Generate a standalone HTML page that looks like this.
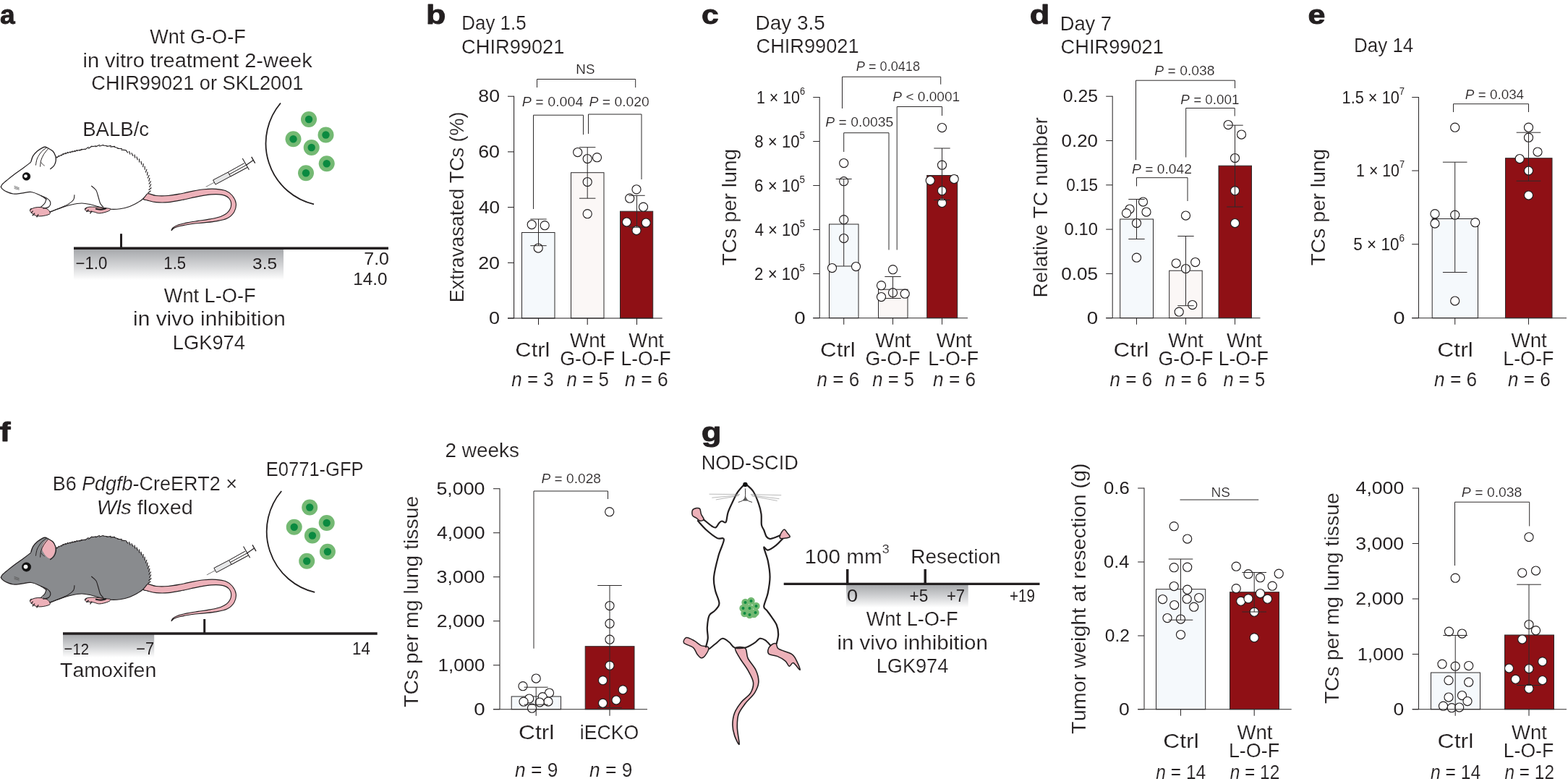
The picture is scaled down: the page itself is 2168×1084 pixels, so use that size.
<!DOCTYPE html>
<html lang="en"><head><meta charset="utf-8"><title>Figure</title>
<style>
html,body{margin:0;padding:0;background:#fff;}
body{width:2168px;height:1084px;overflow:hidden;}
svg{display:block;font-family:"Liberation Sans",sans-serif;font-kerning:none;}
text{white-space:pre;}
</style></head><body>
<svg width="2168" height="1084" viewBox="0 0 2168 1084">
<defs>
<linearGradient id="gg" x1="0" y1="0" x2="0" y2="1"><stop offset="0" stop-color="#a5a7aa"/><stop offset="0.55" stop-color="#d4d5d7"/><stop offset="1" stop-color="#ffffff"/></linearGradient>
</defs>
<rect width="2168" height="1084" fill="#fff"/>
<text transform="translate(-0.07 33.00) scale(0.9893 1)" font-size="37.60" font-weight="bold" fill="#231f20" stroke="#231f20" stroke-width="0.9" stroke-linejoin="round">a</text>
<text transform="translate(207.27 60.00) scale(0.9677 1)" font-size="28.00" fill="#231f20" stroke="#fff" stroke-width="0.18">Wnt G-O-F</text>
<text transform="translate(114.45 92.50) scale(1.0351 1)" font-size="28.00" fill="#231f20" stroke="#fff" stroke-width="0.18">in vitro treatment 2-week</text>
<text transform="translate(126.35 124.20) scale(0.9711 1)" font-size="28.00" fill="#231f20" stroke="#fff" stroke-width="0.18">CHIR99021 or SKL2001</text>
<text transform="translate(114.13 188.00) scale(0.9857 1)" font-size="28.00" fill="#231f20" stroke="#fff" stroke-width="0.18">BALB/c</text>
<path d="M203.41,267.68C206.46,266.98 211.02,270.03 215.87,270.50C220.71,270.97 226.94,270.91 232.47,270.50C238.01,270.08 243.54,269.03 249.08,268.01C254.61,266.98 260.15,265.41 265.68,264.35C271.22,263.30 276.75,262.20 282.29,261.70C287.82,261.20 293.91,261.01 298.89,261.37C303.88,261.73 308.44,262.33 312.18,263.86C315.91,265.38 318.96,267.59 321.31,270.50C323.66,273.40 325.88,277.56 326.29,281.29C326.71,285.03 325.88,289.46 323.80,292.92C321.73,296.37 317.99,299.89 313.84,302.05C309.69,304.21 304.15,304.90 298.89,305.87C293.64,306.84 287.82,307.25 282.29,307.86C276.75,308.47 271.22,308.75 265.68,309.52C260.15,310.30 253.23,311.54 249.08,312.51C244.93,313.48 242.77,314.31 240.78,315.33C238.78,316.36 237.40,318.74 237.12,318.65C236.85,318.57 237.68,316.08 239.12,314.83C240.55,313.59 242.44,312.34 245.76,311.18C249.08,310.02 254.34,308.83 259.04,307.86C263.75,306.89 268.73,306.20 273.99,305.37C279.24,304.54 285.33,303.90 290.59,302.88C295.85,301.85 301.38,300.89 305.54,299.23C309.69,297.57 313.15,295.63 315.50,292.92C317.85,290.20 319.51,286.14 319.65,282.95C319.79,279.77 318.41,276.09 316.33,273.82C314.25,271.55 311.21,270.17 307.20,269.34C303.18,268.51 297.79,268.45 292.25,268.84C286.72,269.23 280.63,270.42 273.99,271.66C267.34,272.91 259.32,274.98 252.40,276.31C245.48,277.64 238.56,279.08 232.47,279.63C226.38,280.18 220.57,280.05 215.87,279.63C211.16,279.22 207.29,277.97 204.24,277.14C201.20,276.31 197.74,276.23 197.60,274.65C197.46,273.07 200.37,268.37 203.41,267.68Z" fill="#edb1b9" stroke="#231f20" stroke-width="1.10" stroke-linejoin="round" stroke-linecap="round"/>
<path d="M1.33,258.38C1.33,257.27 1.88,256.30 3.32,254.72C4.76,253.15 6.92,251.40 9.96,248.91C13.01,246.42 17.71,242.68 21.59,239.78C25.46,236.87 29.75,234.02 33.21,231.48C36.67,228.93 39.58,226.44 42.34,224.50C45.11,222.56 46.36,220.77 49.82,219.85C53.28,218.94 58.53,219.30 63.10,219.02C67.67,218.75 72.79,219.30 77.21,218.19C81.64,217.09 85.38,213.90 89.67,212.38C93.96,210.86 98.52,210.08 102.95,209.06C107.38,208.04 111.81,207.34 116.24,206.24C120.66,205.13 125.09,203.25 129.52,202.42C133.95,201.59 138.10,201.12 142.80,201.25C147.51,201.39 152.77,202.08 157.75,203.25C162.73,204.41 167.99,206.15 172.69,208.23C177.40,210.30 181.83,212.38 185.98,215.70C190.13,219.02 194.56,223.87 197.60,228.16C200.65,232.44 202.58,237.01 204.24,241.44C205.90,245.87 207.15,250.85 207.57,254.72C207.98,258.60 207.43,262.47 206.74,264.69C206.04,266.90 204.94,266.29 203.41,268.01C201.89,269.72 199.68,273.04 197.60,274.98C195.53,276.92 194.00,277.89 190.96,279.63C187.92,281.37 183.49,283.92 179.34,285.44C175.19,286.97 170.48,288.13 166.05,288.76C161.62,289.40 156.09,289.40 152.77,289.26C149.45,289.12 148.62,288.43 146.13,287.93C143.64,287.44 141.14,287.10 137.82,286.27C134.50,285.44 130.35,283.84 126.20,282.95C122.05,282.07 117.62,280.90 112.92,280.96C108.21,281.02 102.95,282.12 97.97,283.28C92.99,284.45 87.87,286.33 83.03,287.93C78.18,289.54 71.68,292.64 68.91,292.92C66.14,293.19 68.22,290.42 66.42,289.59C64.62,288.76 58.53,290.29 58.12,287.93C57.70,285.58 64.21,278.39 63.93,275.48C63.65,272.57 59.92,272.16 56.46,270.50C53.00,268.84 47.60,266.07 43.17,265.52C38.75,264.96 34.04,266.76 29.89,267.18C25.74,267.59 21.86,268.42 18.27,268.01C14.67,267.59 10.79,265.79 8.30,264.69C5.81,263.58 4.48,262.42 3.32,261.37C2.16,260.31 1.33,259.48 1.33,258.38Z" fill="#fff" stroke="none" stroke-width="0.00" stroke-linejoin="round" stroke-linecap="round"/>
<path d="M1.33,258.38C1.66,257.77 1.88,256.30 3.32,254.72C4.76,253.15 6.92,251.40 9.96,248.91C13.01,246.42 17.71,242.68 21.59,239.78C25.46,236.87 29.75,234.02 33.21,231.48C36.67,228.93 40.82,225.66 42.34,224.50" fill="none" stroke="#231f20" stroke-width="1.20" stroke-linejoin="round" stroke-linecap="round"/>
<path d="M203.41,268.01C202.45,269.17 199.68,273.04 197.60,274.98C195.53,276.92 194.00,277.89 190.96,279.63C187.92,281.37 183.49,283.92 179.34,285.44C175.19,286.97 170.48,288.13 166.05,288.76C161.62,289.40 156.09,289.40 152.77,289.26C149.45,289.12 148.62,288.43 146.13,287.93C143.64,287.44 141.14,287.10 137.82,286.27C134.50,285.44 130.35,283.84 126.20,282.95C122.05,282.07 117.62,280.90 112.92,280.96C108.21,281.02 102.95,282.12 97.97,283.28C92.99,284.45 87.87,286.33 83.03,287.93C78.18,289.54 71.26,292.09 68.91,292.92" fill="none" stroke="#231f20" stroke-width="1.10" stroke-linejoin="round" stroke-linecap="round"/>
<path d="M63.93,275.48C62.68,274.65 59.92,272.16 56.46,270.50C53.00,268.84 47.60,266.07 43.17,265.52C38.75,264.96 34.04,266.76 29.89,267.18C25.74,267.59 21.86,268.42 18.27,268.01C14.67,267.59 10.79,265.79 8.30,264.69C5.81,263.58 4.48,262.42 3.32,261.37C2.16,260.31 1.66,258.87 1.33,258.38" fill="none" stroke="#231f20" stroke-width="1.20" stroke-linejoin="round" stroke-linecap="round"/>
<line x1="75.38" y1="219.57" x2="79.05" y2="216.81" stroke="#231f20" stroke-width="1.15"/>
<line x1="78.65" y1="218.44" x2="81.69" y2="214.99" stroke="#231f20" stroke-width="1.15"/>
<line x1="81.30" y1="216.65" x2="84.94" y2="213.84" stroke="#231f20" stroke-width="1.15"/>
<line x1="84.51" y1="215.50" x2="87.70" y2="212.18" stroke="#231f20" stroke-width="1.15"/>
<line x1="87.19" y1="213.78" x2="91.11" y2="211.36" stroke="#231f20" stroke-width="1.15"/>
<line x1="90.46" y1="212.94" x2="94.11" y2="210.14" stroke="#231f20" stroke-width="1.15"/>
<line x1="93.39" y1="211.68" x2="97.57" y2="209.74" stroke="#231f20" stroke-width="1.15"/>
<line x1="96.79" y1="211.28" x2="100.61" y2="208.71" stroke="#231f20" stroke-width="1.15"/>
<line x1="99.82" y1="210.23" x2="104.03" y2="208.35" stroke="#231f20" stroke-width="1.15"/>
<line x1="103.23" y1="209.85" x2="107.06" y2="207.30" stroke="#231f20" stroke-width="1.15"/>
<line x1="106.26" y1="208.81" x2="110.50" y2="207.03" stroke="#231f20" stroke-width="1.15"/>
<line x1="109.70" y1="208.54" x2="113.53" y2="206.00" stroke="#231f20" stroke-width="1.15"/>
<line x1="111.64" y1="207.14" x2="118.04" y2="206.01" stroke="#231f20" stroke-width="1.15"/>
<line x1="117.22" y1="207.10" x2="122.49" y2="203.29" stroke="#231f20" stroke-width="1.15"/>
<line x1="122.16" y1="205.50" x2="127.46" y2="201.73" stroke="#231f20" stroke-width="1.15"/>
<line x1="126.63" y1="202.78" x2="133.07" y2="201.93" stroke="#231f20" stroke-width="1.15"/>
<line x1="132.04" y1="202.94" x2="137.95" y2="200.23" stroke="#231f20" stroke-width="1.15"/>
<line x1="137.11" y1="202.31" x2="143.25" y2="200.17" stroke="#231f20" stroke-width="1.15"/>
<line x1="142.15" y1="201.00" x2="148.60" y2="201.76" stroke="#231f20" stroke-width="1.15"/>
<line x1="147.35" y1="202.51" x2="153.74" y2="201.33" stroke="#231f20" stroke-width="1.15"/>
<line x1="152.44" y1="203.17" x2="158.90" y2="202.42" stroke="#231f20" stroke-width="1.15"/>
<line x1="157.63" y1="203.00" x2="163.82" y2="205.00" stroke="#231f20" stroke-width="1.15"/>
<line x1="162.45" y1="205.50" x2="168.95" y2="205.54" stroke="#231f20" stroke-width="1.15"/>
<line x1="167.33" y1="207.10" x2="173.82" y2="207.56" stroke="#231f20" stroke-width="1.15"/>
<line x1="173.84" y1="207.41" x2="176.83" y2="211.42" stroke="#231f20" stroke-width="1.15"/>
<line x1="178.38" y1="208.95" x2="180.01" y2="213.68" stroke="#231f20" stroke-width="1.15"/>
<line x1="181.73" y1="211.28" x2="184.07" y2="215.69" stroke="#231f20" stroke-width="1.15"/>
<line x1="186.03" y1="213.55" x2="186.71" y2="218.50" stroke="#231f20" stroke-width="1.15"/>
<line x1="188.82" y1="216.50" x2="190.33" y2="221.27" stroke="#231f20" stroke-width="1.15"/>
<line x1="192.60" y1="219.47" x2="192.56" y2="224.47" stroke="#231f20" stroke-width="1.15"/>
<line x1="194.93" y1="222.77" x2="195.83" y2="227.69" stroke="#231f20" stroke-width="1.15"/>
<line x1="198.31" y1="226.19" x2="197.60" y2="231.14" stroke="#231f20" stroke-width="1.15"/>
<line x1="200.21" y1="229.83" x2="200.20" y2="234.83" stroke="#231f20" stroke-width="1.15"/>
<line x1="202.93" y1="233.82" x2="201.29" y2="238.55" stroke="#231f20" stroke-width="1.15"/>
<line x1="204.09" y1="237.68" x2="203.42" y2="242.64" stroke="#231f20" stroke-width="1.15"/>
<line x1="206.28" y1="241.95" x2="204.13" y2="246.46" stroke="#231f20" stroke-width="1.15"/>
<line x1="207.03" y1="245.92" x2="205.74" y2="250.76" stroke="#231f20" stroke-width="1.15"/>
<line x1="208.65" y1="250.47" x2="205.88" y2="254.63" stroke="#231f20" stroke-width="1.15"/>
<line x1="208.84" y1="254.60" x2="206.56" y2="259.05" stroke="#231f20" stroke-width="1.15"/>
<line x1="209.40" y1="259.51" x2="205.55" y2="262.71" stroke="#231f20" stroke-width="1.15"/>
<line x1="208.49" y1="263.77" x2="204.51" y2="266.80" stroke="#231f20" stroke-width="1.15"/>
<path d="M41.51,290.42C42.20,289.18 45.66,287.74 48.16,287.10C50.65,286.47 53.69,286.33 56.46,286.61C59.23,286.88 62.68,287.71 64.76,288.76C66.84,289.82 68.36,291.67 68.91,292.92C69.47,294.16 69.88,295.27 68.08,296.24C66.28,297.21 61.16,298.40 58.12,298.73C55.07,299.06 52.17,298.92 49.82,298.23C47.46,297.54 45.39,295.88 44.00,294.58C42.62,293.28 40.82,291.67 41.51,290.42Z" fill="#edb1b9" stroke="#231f20" stroke-width="1.00" stroke-linejoin="round" stroke-linecap="round"/>
<path d="M117.57,288.76C118.12,287.88 120.33,286.69 122.88,286.27C125.42,285.86 129.24,286.05 132.84,286.27C136.44,286.49 141.14,287.19 144.47,287.60C147.79,288.02 151.94,288.02 152.77,288.76C153.60,289.51 151.94,291.06 149.45,292.09C146.96,293.11 141.14,294.77 137.82,294.91C134.50,295.05 132.57,293.47 129.52,292.92C126.48,292.36 121.55,292.28 119.56,291.59C117.57,290.90 117.01,289.65 117.57,288.76Z" fill="#edb1b9" stroke="#231f20" stroke-width="1.00" stroke-linejoin="round" stroke-linecap="round"/>
<line x1="41.51" y1="290.42" x2="43.51" y2="287.93" stroke="#231f20" stroke-width="1.30"/>
<line x1="42.84" y1="294.58" x2="45.66" y2="291.59" stroke="#231f20" stroke-width="1.30"/>
<line x1="44.83" y1="298.23" x2="48.16" y2="294.58" stroke="#231f20" stroke-width="1.30"/>
<line x1="50.65" y1="300.39" x2="53.14" y2="296.24" stroke="#231f20" stroke-width="1.30"/>
<line x1="117.57" y1="289.26" x2="119.89" y2="287.10" stroke="#231f20" stroke-width="1.30"/>
<line x1="119.56" y1="292.92" x2="122.55" y2="289.93" stroke="#231f20" stroke-width="1.30"/>
<line x1="124.54" y1="295.41" x2="127.03" y2="291.59" stroke="#231f20" stroke-width="1.30"/>
<path d="M132.84,288.76C133.95,288.90 137.27,289.68 139.48,289.59C141.70,289.51 145.02,288.49 146.13,288.27" fill="none" stroke="#231f20" stroke-width="2.20" stroke-linejoin="round" stroke-linecap="round"/>
<path d="M42.84,223.51C41.32,221.57 44.23,218.11 45.66,215.70C47.10,213.29 49.40,210.91 51.48,209.06C53.55,207.20 56.32,205.54 58.12,204.58C59.92,203.61 60.89,203.19 62.27,203.25C63.65,203.30 64.62,203.94 66.42,204.91C68.22,205.88 71.35,207.26 73.06,209.06C74.78,210.86 76.02,213.49 76.72,215.70C77.41,217.92 77.55,220.13 77.21,222.34C76.88,224.56 75.97,227.13 74.72,228.99C73.48,230.84 71.68,233.33 69.74,233.47C67.80,233.61 65.59,230.84 63.10,229.82C60.61,228.79 58.17,228.38 54.80,227.32C51.42,226.27 44.36,225.44 42.84,223.51Z" fill="#fff" stroke="none" stroke-width="0.00" stroke-linejoin="round" stroke-linecap="round"/>
<path d="M42.84,223.51C43.31,222.20 44.23,218.11 45.66,215.70C47.10,213.29 49.40,210.91 51.48,209.06C53.55,207.20 56.32,205.54 58.12,204.58C59.92,203.61 60.89,203.19 62.27,203.25C63.65,203.30 64.62,203.94 66.42,204.91C68.22,205.88 71.35,207.26 73.06,209.06C74.78,210.86 76.02,213.49 76.72,215.70C77.41,217.92 77.55,220.13 77.21,222.34C76.88,224.56 75.97,227.13 74.72,228.99C73.48,230.84 70.57,232.72 69.74,233.47" fill="none" stroke="#231f20" stroke-width="1.30" stroke-linejoin="round" stroke-linecap="round"/>
<path d="M49.48,228.16C49.82,226.63 50.18,222.07 51.48,219.02C52.78,215.98 55.21,212.30 57.29,209.89C59.36,207.48 62.82,205.46 63.93,204.58" fill="none" stroke="#231f20" stroke-width="1.00" stroke-linejoin="round" stroke-linecap="round"/>
<path d="M55.63,230.15C55.82,228.71 55.96,224.34 56.79,221.51C57.62,218.69 59.06,215.76 60.61,213.21C62.16,210.66 65.18,207.40 66.09,206.24" fill="none" stroke="#231f20" stroke-width="1.00" stroke-linejoin="round" stroke-linecap="round"/>
<path d="M57.29,224.83C57.56,225.25 58.26,226.63 58.95,227.32C59.64,228.02 61.02,228.71 61.44,228.99" fill="none" stroke="#231f20" stroke-width="0.80" stroke-linejoin="round" stroke-linecap="round"/>
<path d="M126.53,257.21C127.58,258.18 131.24,260.40 132.84,263.03C134.45,265.66 135.19,269.94 136.16,272.99C137.13,276.03 137.55,279.08 138.65,281.29C139.76,283.51 142.11,285.44 142.80,286.27" fill="none" stroke="#231f20" stroke-width="1.10" stroke-linejoin="round" stroke-linecap="round"/>
<path d="M102.95,269.67C102.73,270.78 103.01,274.23 101.62,276.31C100.24,278.39 97.75,280.24 94.65,282.12C91.55,284.00 87.32,285.75 83.03,287.60C78.74,289.46 71.26,292.31 68.91,293.25" fill="none" stroke="#231f20" stroke-width="1.10" stroke-linejoin="round" stroke-linecap="round"/>
<path d="M56.46,270.50C57.98,271.19 63.38,273.13 65.59,274.65C67.80,276.17 69.47,277.69 69.74,279.63C70.02,281.57 68.91,284.83 67.25,286.27C65.59,287.71 61.02,287.93 59.78,288.27" fill="none" stroke="#231f20" stroke-width="1.10" stroke-linejoin="round" stroke-linecap="round"/>
<path d="M63.93,275.48C63.57,276.45 63.02,279.49 61.77,281.29C60.53,283.09 57.34,285.44 56.46,286.27" fill="none" stroke="#231f20" stroke-width="1.10" stroke-linejoin="round" stroke-linecap="round"/>
<circle cx="36.53" cy="243.93" r="5.40" fill="#111" stroke="#111" stroke-width="0.50"/>
<circle cx="35.54" cy="243.60" r="2.40" fill="#fff" stroke="#fff" stroke-width="0.00"/>
<line x1="19.59" y1="257.21" x2="26.57" y2="259.71" stroke="#555" stroke-width="0.70"/>
<line x1="19.59" y1="258.87" x2="26.57" y2="261.03" stroke="#555" stroke-width="0.70"/>
<line x1="19.59" y1="260.54" x2="26.57" y2="262.36" stroke="#555" stroke-width="0.70"/>
<line x1="284.61" y1="258.38" x2="296.24" y2="252.23" stroke="#555" stroke-width="0.80"/>
<polygon points="294.58,248.91 315.33,238.12 318.65,243.93 297.90,255.06" fill="#e6e7e8" stroke="#231f20" stroke-width="1"/>
<line x1="315.33" y1="238.12" x2="337.75" y2="225.66" stroke="#231f20" stroke-width="1.05"/>
<line x1="318.65" y1="243.93" x2="341.90" y2="231.48" stroke="#231f20" stroke-width="1.05"/>
<line x1="316.99" y1="241.11" x2="339.74" y2="228.65" stroke="#231f20" stroke-width="1.05"/>
<line x1="335.26" y1="219.02" x2="344.39" y2="234.80" stroke="#231f20" stroke-width="1.10"/>
<line x1="339.74" y1="228.65" x2="350.20" y2="221.51" stroke="#231f20" stroke-width="1.20"/>
<line x1="347.71" y1="216.86" x2="352.69" y2="225.66" stroke="#231f20" stroke-width="1.30"/>
<path d="M388.00,142.50 A86.4,86.4 0 0 0 434.00,282.40" fill="none" stroke="#231f20" stroke-width="1.8"/>
<circle cx="427.00" cy="165.00" r="11.00" fill="#74b973" stroke="none" stroke-width="0.00"/>
<circle cx="427.00" cy="165.00" r="5.20" fill="#0b8a40" stroke="none" stroke-width="0.00"/>
<circle cx="405.50" cy="192.20" r="11.00" fill="#74b973" stroke="none" stroke-width="0.00"/>
<circle cx="405.50" cy="192.20" r="5.20" fill="#0b8a40" stroke="none" stroke-width="0.00"/>
<circle cx="450.50" cy="186.50" r="11.00" fill="#74b973" stroke="none" stroke-width="0.00"/>
<circle cx="450.50" cy="186.50" r="5.20" fill="#0b8a40" stroke="none" stroke-width="0.00"/>
<circle cx="430.70" cy="204.00" r="11.00" fill="#74b973" stroke="none" stroke-width="0.00"/>
<circle cx="430.70" cy="204.00" r="5.20" fill="#0b8a40" stroke="none" stroke-width="0.00"/>
<circle cx="451.70" cy="226.20" r="11.00" fill="#74b973" stroke="none" stroke-width="0.00"/>
<circle cx="451.70" cy="226.20" r="5.20" fill="#0b8a40" stroke="none" stroke-width="0.00"/>
<circle cx="423.00" cy="239.20" r="11.00" fill="#74b973" stroke="none" stroke-width="0.00"/>
<circle cx="423.00" cy="239.20" r="5.20" fill="#0b8a40" stroke="none" stroke-width="0.00"/>
<rect x="102" y="344" width="290" height="43" fill="url(#gg)"/>
<line x1="102.00" y1="343.20" x2="537.00" y2="343.20" stroke="#231f20" stroke-width="3.50"/>
<line x1="167.50" y1="323.20" x2="167.50" y2="344.00" stroke="#231f20" stroke-width="3.00"/>
<text transform="translate(104.44 371.70) scale(0.9672 1)" font-size="23.00" fill="#231f20">−1.0</text>
<text transform="translate(226.34 371.70) scale(0.9624 1)" font-size="23.00" fill="#231f20">1.5</text>
<text transform="translate(349.09 371.70) scale(1.0608 1)" font-size="23.00" fill="#231f20">3.5</text>
<text transform="translate(503.25 366.40) scale(1.0857 1)" font-size="23.00" fill="#231f20">7.0</text>
<text transform="translate(488.18 393.50) scale(1.0557 1)" font-size="23.00" fill="#231f20">14.0</text>
<text transform="translate(226.77 417.90) scale(0.9709 1)" font-size="28.00" fill="#231f20" stroke="#fff" stroke-width="0.18">Wnt L-O-F</text>
<text transform="translate(184.09 450.20) scale(1.0669 1)" font-size="28.00" fill="#231f20" stroke="#fff" stroke-width="0.18">in vivo inhibition</text>
<text transform="translate(238.86 483.00) scale(0.9734 1)" font-size="28.00" fill="#231f20" stroke="#fff" stroke-width="0.18">LGK974</text>
<text transform="translate(589.04 33.00) scale(1.1902 1)" font-size="37.60" font-weight="bold" fill="#231f20" stroke="#231f20" stroke-width="0.9" stroke-linejoin="round">b</text>
<text transform="translate(638.27 40.80) scale(0.9197 1)" font-size="28.20" fill="#231f20" stroke="#fff" stroke-width="0.18">Day 1.5</text>
<text transform="translate(638.05 73.50) scale(0.9662 1)" font-size="28.20" fill="#231f20" stroke="#fff" stroke-width="0.18">CHIR99021</text>
<text transform="translate(796.36 102.30) scale(0.9979 1)" font-size="18.80" fill="#231f20" stroke="#fff" stroke-width="0.18">NS</text>
<text transform="translate(721.82 146.50) scale(1.0434 1)" font-size="18.80" fill="#231f20" stroke="#fff" stroke-width="0.18"><tspan font-style="italic">P</tspan> = 0.004</text>
<text transform="translate(814.53 146.50) scale(1.0283 1)" font-size="18.80" fill="#231f20" stroke="#fff" stroke-width="0.18"><tspan font-style="italic">P</tspan> = 0.020</text>
<rect x="721.50" y="321.50" width="45.50" height="118.50" fill="#f5f9fc" stroke="#2d2a2b" stroke-width="1"/>
<rect x="789.50" y="238.70" width="45.50" height="201.30" fill="#fbf7f6" stroke="#2d2a2b" stroke-width="1"/>
<rect x="857.50" y="292.20" width="45.20" height="147.80" fill="#8f1015" stroke="#2d2a2b" stroke-width="1"/>
<circle cx="735.20" cy="310.50" r="6.05" fill="#fff" stroke="#231f20" stroke-width="1.15"/>
<circle cx="753.20" cy="311.70" r="6.05" fill="#fff" stroke="#231f20" stroke-width="1.15"/>
<circle cx="744.20" cy="343.00" r="6.05" fill="#fff" stroke="#231f20" stroke-width="1.15"/>
<circle cx="798.70" cy="210.50" r="6.05" fill="#fff" stroke="#231f20" stroke-width="1.15"/>
<circle cx="812.20" cy="219.50" r="6.05" fill="#fff" stroke="#231f20" stroke-width="1.15"/>
<circle cx="825.50" cy="217.70" r="6.05" fill="#fff" stroke="#231f20" stroke-width="1.15"/>
<circle cx="812.20" cy="251.50" r="6.05" fill="#fff" stroke="#231f20" stroke-width="1.15"/>
<circle cx="812.20" cy="295.70" r="6.05" fill="#fff" stroke="#231f20" stroke-width="1.15"/>
<circle cx="870.70" cy="274.20" r="6.05" fill="#fff" stroke="#231f20" stroke-width="1.15"/>
<circle cx="880.00" cy="261.80" r="6.05" fill="#fff" stroke="#231f20" stroke-width="1.15"/>
<circle cx="889.50" cy="286.20" r="6.05" fill="#fff" stroke="#231f20" stroke-width="1.15"/>
<circle cx="866.50" cy="307.00" r="6.05" fill="#fff" stroke="#231f20" stroke-width="1.15"/>
<circle cx="893.20" cy="308.00" r="6.05" fill="#fff" stroke="#231f20" stroke-width="1.15"/>
<circle cx="880.00" cy="318.50" r="6.05" fill="#fff" stroke="#231f20" stroke-width="1.15"/>
<line x1="744.50" y1="303.00" x2="744.50" y2="339.70" stroke="#2d2a2b" stroke-width="1.00"/>
<line x1="733.30" y1="303.00" x2="755.70" y2="303.00" stroke="#2d2a2b" stroke-width="1.00"/>
<line x1="733.30" y1="339.70" x2="755.70" y2="339.70" stroke="#2d2a2b" stroke-width="1.00"/>
<line x1="812.20" y1="203.70" x2="812.20" y2="274.20" stroke="#2d2a2b" stroke-width="1.00"/>
<line x1="801.00" y1="203.70" x2="823.40" y2="203.70" stroke="#2d2a2b" stroke-width="1.00"/>
<line x1="801.00" y1="274.20" x2="823.40" y2="274.20" stroke="#2d2a2b" stroke-width="1.00"/>
<line x1="880.50" y1="270.30" x2="880.50" y2="314.20" stroke="#2d2a2b" stroke-width="1.00"/>
<line x1="869.30" y1="270.30" x2="891.70" y2="270.30" stroke="#2d2a2b" stroke-width="1.00"/>
<line x1="869.30" y1="314.20" x2="891.70" y2="314.20" stroke="#2d2a2b" stroke-width="1.00"/>
<polyline points="742.50,121.00 742.50,109.50 878.70,109.50 878.70,121.00" fill="none" stroke="#2d2a2b" stroke-width="1.00"/>
<polyline points="737.50,289.00 737.50,159.20 806.50,159.20 806.50,186.20" fill="none" stroke="#2d2a2b" stroke-width="1.00"/>
<polyline points="813.50,185.00 813.50,158.00 887.00,158.00 887.00,248.00" fill="none" stroke="#2d2a2b" stroke-width="1.00"/>
<line x1="710.60" y1="132.70" x2="710.60" y2="440.00" stroke="#231f20" stroke-width="1.05"/>
<line x1="702.00" y1="133.20" x2="710.60" y2="133.20" stroke="#231f20" stroke-width="1.05"/>
<text transform="translate(661.37 141.40) scale(1.1112 1)" font-size="24.00" fill="#231f20">80</text>
<line x1="702.00" y1="209.90" x2="710.60" y2="209.90" stroke="#231f20" stroke-width="1.05"/>
<text transform="translate(661.16 218.10) scale(1.1193 1)" font-size="24.00" fill="#231f20">60</text>
<line x1="702.00" y1="286.60" x2="710.60" y2="286.60" stroke="#231f20" stroke-width="1.05"/>
<text transform="translate(661.91 294.80) scale(1.0901 1)" font-size="24.00" fill="#231f20">40</text>
<line x1="702.00" y1="363.30" x2="710.60" y2="363.30" stroke="#231f20" stroke-width="1.05"/>
<text transform="translate(661.16 371.50) scale(1.1193 1)" font-size="24.00" fill="#231f20">20</text>
<line x1="702.00" y1="440.00" x2="710.60" y2="440.00" stroke="#231f20" stroke-width="1.05"/>
<text transform="translate(675.98 448.20) scale(1.1285 1)" font-size="24.00" fill="#231f20">0</text>
<line x1="702.00" y1="440.00" x2="915.70" y2="440.00" stroke="#231f20" stroke-width="1.05"/>
<line x1="744.50" y1="440.00" x2="744.50" y2="449.00" stroke="#231f20" stroke-width="1.05"/>
<line x1="812.20" y1="440.00" x2="812.20" y2="449.00" stroke="#231f20" stroke-width="1.05"/>
<line x1="880.50" y1="440.00" x2="880.50" y2="449.00" stroke="#231f20" stroke-width="1.05"/>
<text transform="translate(712.37 492.80) scale(1.1101 1)" font-size="27.80" fill="#231f20" stroke="#fff" stroke-width="0.18">Ctrl</text>
<text transform="translate(787.97 480.30) scale(0.9982 1)" font-size="27.80" fill="#231f20" stroke="#fff" stroke-width="0.18">Wnt</text>
<text transform="translate(774.27 505.30) scale(0.9632 1)" font-size="27.80" fill="#231f20" stroke="#fff" stroke-width="0.18">G-O-F</text>
<text transform="translate(869.27 480.30) scale(0.9860 1)" font-size="27.80" fill="#231f20" stroke="#fff" stroke-width="0.18">Wnt</text>
<text transform="translate(858.42 505.30) scale(0.9532 1)" font-size="27.80" fill="#231f20" stroke="#fff" stroke-width="0.18">L-O-F</text>
<text transform="translate(707.22 533.60) scale(0.9345 1)" font-size="27.80" fill="#231f20" stroke="#fff" stroke-width="0.18"><tspan font-style="italic">n</tspan> = 3</text>
<text transform="translate(783.52 533.60) scale(0.9318 1)" font-size="27.80" fill="#231f20" stroke="#fff" stroke-width="0.18"><tspan font-style="italic">n</tspan> = 5</text>
<text transform="translate(864.01 533.60) scale(0.9542 1)" font-size="27.80" fill="#231f20" stroke="#fff" stroke-width="0.18"><tspan font-style="italic">n</tspan> = 6</text>
<text transform="translate(640.90 418.32) rotate(-90) scale(0.9539 1)" font-size="28.30" fill="#231f20" stroke="#fff" stroke-width="0.18">Extravasated TCs (%)</text>
<text transform="translate(970.05 33.00) scale(1.1344 1)" font-size="37.60" font-weight="bold" fill="#231f20" stroke="#231f20" stroke-width="0.9" stroke-linejoin="round">c</text>
<text transform="translate(1044.61 40.80) scale(0.9891 1)" font-size="28.20" fill="#231f20" stroke="#fff" stroke-width="0.18">Day 3.5</text>
<text transform="translate(1045.55 73.30) scale(0.9641 1)" font-size="28.20" fill="#231f20" stroke="#fff" stroke-width="0.18">CHIR99021</text>
<text transform="translate(1183.87 97.80) scale(0.9644 1)" font-size="18.80" fill="#231f20" stroke="#fff" stroke-width="0.18"><tspan font-style="italic">P</tspan> = 0.0418</text>
<text transform="translate(1234.34 139.80) scale(1.0154 1)" font-size="18.80" fill="#231f20" stroke="#fff" stroke-width="0.18"><tspan font-style="italic">P</tspan> &lt; 0.0001</text>
<text transform="translate(1141.33 174.80) scale(1.0283 1)" font-size="18.80" fill="#231f20" stroke="#fff" stroke-width="0.18"><tspan font-style="italic">P</tspan> = 0.0035</text>
<rect x="1146.50" y="310.00" width="40.50" height="129.70" fill="#f5f9fc" stroke="#2d2a2b" stroke-width="1"/>
<rect x="1214.50" y="400.20" width="40.50" height="39.50" fill="#fbf7f6" stroke="#2d2a2b" stroke-width="1"/>
<rect x="1281.70" y="242.50" width="42.00" height="197.20" fill="#8f1015" stroke="#2d2a2b" stroke-width="1"/>
<circle cx="1166.70" cy="225.50" r="6.05" fill="#fff" stroke="#231f20" stroke-width="1.15"/>
<circle cx="1166.70" cy="250.70" r="6.05" fill="#fff" stroke="#231f20" stroke-width="1.15"/>
<circle cx="1166.70" cy="303.70" r="6.05" fill="#fff" stroke="#231f20" stroke-width="1.15"/>
<circle cx="1166.70" cy="329.50" r="6.05" fill="#fff" stroke="#231f20" stroke-width="1.15"/>
<circle cx="1150.50" cy="370.50" r="6.05" fill="#fff" stroke="#231f20" stroke-width="1.15"/>
<circle cx="1183.50" cy="368.50" r="6.05" fill="#fff" stroke="#231f20" stroke-width="1.15"/>
<circle cx="1234.50" cy="372.70" r="6.05" fill="#fff" stroke="#231f20" stroke-width="1.15"/>
<circle cx="1218.50" cy="394.70" r="6.05" fill="#fff" stroke="#231f20" stroke-width="1.15"/>
<circle cx="1234.50" cy="404.70" r="6.05" fill="#fff" stroke="#231f20" stroke-width="1.15"/>
<circle cx="1251.20" cy="406.20" r="6.05" fill="#fff" stroke="#231f20" stroke-width="1.15"/>
<circle cx="1218.50" cy="410.50" r="6.05" fill="#fff" stroke="#231f20" stroke-width="1.15"/>
<circle cx="1302.50" cy="176.50" r="6.05" fill="#fff" stroke="#231f20" stroke-width="1.15"/>
<circle cx="1302.50" cy="228.20" r="6.05" fill="#fff" stroke="#231f20" stroke-width="1.15"/>
<circle cx="1286.20" cy="249.50" r="6.05" fill="#fff" stroke="#231f20" stroke-width="1.15"/>
<circle cx="1319.20" cy="247.50" r="6.05" fill="#fff" stroke="#231f20" stroke-width="1.15"/>
<circle cx="1302.50" cy="263.70" r="6.05" fill="#fff" stroke="#231f20" stroke-width="1.15"/>
<circle cx="1302.50" cy="280.50" r="6.05" fill="#fff" stroke="#231f20" stroke-width="1.15"/>
<line x1="1166.70" y1="247.50" x2="1166.70" y2="368.00" stroke="#2d2a2b" stroke-width="1.00"/>
<line x1="1155.70" y1="247.50" x2="1177.70" y2="247.50" stroke="#2d2a2b" stroke-width="1.00"/>
<line x1="1155.70" y1="368.00" x2="1177.70" y2="368.00" stroke="#2d2a2b" stroke-width="1.00"/>
<line x1="1234.50" y1="382.50" x2="1234.50" y2="412.50" stroke="#2d2a2b" stroke-width="1.00"/>
<line x1="1223.30" y1="382.50" x2="1245.70" y2="382.50" stroke="#2d2a2b" stroke-width="1.00"/>
<line x1="1223.30" y1="412.50" x2="1245.70" y2="412.50" stroke="#2d2a2b" stroke-width="1.00"/>
<line x1="1302.50" y1="205.00" x2="1302.50" y2="276.50" stroke="#2d2a2b" stroke-width="1.00"/>
<line x1="1291.30" y1="205.00" x2="1313.70" y2="205.00" stroke="#2d2a2b" stroke-width="1.00"/>
<line x1="1291.30" y1="276.50" x2="1313.70" y2="276.50" stroke="#2d2a2b" stroke-width="1.00"/>
<polyline points="1164.50,150.00 1164.50,106.20 1300.70,106.20 1300.70,116.70" fill="none" stroke="#2d2a2b" stroke-width="1.00"/>
<polyline points="1240.20,345.50 1240.20,147.50 1302.50,147.50 1302.50,160.00" fill="none" stroke="#2d2a2b" stroke-width="1.00"/>
<polyline points="1166.70,210.00 1166.70,183.70 1229.00,183.70 1229.00,345.50" fill="none" stroke="#2d2a2b" stroke-width="1.00"/>
<line x1="1133.20" y1="134.00" x2="1133.20" y2="439.70" stroke="#2d2a2b" stroke-width="1.05"/>
<line x1="1124.20" y1="134.50" x2="1133.20" y2="134.50" stroke="#2d2a2b" stroke-width="1.05"/>
<text transform="translate(1045.90 142.70) scale(0.8907 1)" font-size="24.00" fill="#231f20">1 × 10<tspan font-size="14.40" dy="-12.00">6</tspan></text>
<line x1="1124.20" y1="195.50" x2="1133.20" y2="195.50" stroke="#2d2a2b" stroke-width="1.05"/>
<text transform="translate(1043.26 203.70) scale(0.9256 1)" font-size="24.00" fill="#231f20">8 × 10<tspan font-size="14.40" dy="-12.00">5</tspan></text>
<line x1="1124.20" y1="256.50" x2="1133.20" y2="256.50" stroke="#2d2a2b" stroke-width="1.05"/>
<text transform="translate(1043.09 264.70) scale(0.9278 1)" font-size="24.00" fill="#231f20">6 × 10<tspan font-size="14.40" dy="-12.00">5</tspan></text>
<line x1="1124.20" y1="317.50" x2="1133.20" y2="317.50" stroke="#2d2a2b" stroke-width="1.05"/>
<text transform="translate(1043.70 325.70) scale(0.9196 1)" font-size="24.00" fill="#231f20">4 × 10<tspan font-size="14.40" dy="-12.00">5</tspan></text>
<line x1="1124.20" y1="378.50" x2="1133.20" y2="378.50" stroke="#2d2a2b" stroke-width="1.05"/>
<text transform="translate(1043.09 386.70) scale(0.9278 1)" font-size="24.00" fill="#231f20">2 × 10<tspan font-size="14.40" dy="-12.00">5</tspan></text>
<line x1="1124.20" y1="439.70" x2="1133.20" y2="439.70" stroke="#2d2a2b" stroke-width="1.05"/>
<text transform="translate(1098.16 447.90) scale(1.1545 1)" font-size="24.00" fill="#231f20">0</text>
<line x1="1124.20" y1="439.70" x2="1338.00" y2="439.70" stroke="#2d2a2b" stroke-width="1.05"/>
<line x1="1166.70" y1="439.70" x2="1166.70" y2="448.70" stroke="#2d2a2b" stroke-width="1.05"/>
<line x1="1234.50" y1="439.70" x2="1234.50" y2="448.70" stroke="#2d2a2b" stroke-width="1.05"/>
<line x1="1302.50" y1="439.70" x2="1302.50" y2="448.70" stroke="#2d2a2b" stroke-width="1.05"/>
<text transform="translate(1134.05 492.60) scale(1.1251 1)" font-size="27.80" fill="#231f20" stroke="#fff" stroke-width="0.18">Ctrl</text>
<text transform="translate(1210.47 480.30) scale(0.9921 1)" font-size="27.80" fill="#231f20" stroke="#fff" stroke-width="0.18">Wnt</text>
<text transform="translate(1196.57 505.30) scale(0.9619 1)" font-size="27.80" fill="#231f20" stroke="#fff" stroke-width="0.18">G-O-F</text>
<text transform="translate(1294.77 480.30) scale(0.9962 1)" font-size="27.80" fill="#231f20" stroke="#fff" stroke-width="0.18">Wnt</text>
<text transform="translate(1283.20 505.30) scale(0.9633 1)" font-size="27.80" fill="#231f20" stroke="#fff" stroke-width="0.18">L-O-F</text>
<text transform="translate(1129.52 533.60) scale(0.9378 1)" font-size="27.80" fill="#231f20" stroke="#fff" stroke-width="0.18"><tspan font-style="italic">n</tspan> = 6</text>
<text transform="translate(1206.22 533.60) scale(0.9252 1)" font-size="27.80" fill="#231f20" stroke="#fff" stroke-width="0.18"><tspan font-style="italic">n</tspan> = 5</text>
<text transform="translate(1290.02 533.60) scale(0.9460 1)" font-size="27.80" fill="#231f20" stroke="#fff" stroke-width="0.18"><tspan font-style="italic">n</tspan> = 6</text>
<text transform="translate(1018.00 367.43) rotate(-90) scale(0.9988 1)" font-size="28.30" fill="#231f20" stroke="#fff" stroke-width="0.18">TCs per lung</text>
<text transform="translate(1423.64 33.00) scale(1.2008 1)" font-size="37.60" font-weight="bold" fill="#231f20" stroke="#231f20" stroke-width="0.9" stroke-linejoin="round">d</text>
<text transform="translate(1465.65 41.50) scale(0.9701 1)" font-size="28.20" fill="#231f20" stroke="#fff" stroke-width="0.18">Day 7</text>
<text transform="translate(1466.55 74.00) scale(0.9662 1)" font-size="28.20" fill="#231f20" stroke="#fff" stroke-width="0.18">CHIR99021</text>
<text transform="translate(1596.33 103.50) scale(1.0283 1)" font-size="18.80" fill="#231f20" stroke="#fff" stroke-width="0.18"><tspan font-style="italic">P</tspan> = 0.038</text>
<text transform="translate(1632.34 144.00) scale(1.0018 1)" font-size="18.80" fill="#231f20" stroke="#fff" stroke-width="0.18"><tspan font-style="italic">P</tspan> = 0.001</text>
<text transform="translate(1565.03 240.30) scale(1.0245 1)" font-size="18.80" fill="#231f20" stroke="#fff" stroke-width="0.18"><tspan font-style="italic">P</tspan> = 0.042</text>
<rect x="1548.70" y="303.00" width="45.80" height="136.70" fill="#f5f9fc" stroke="#2d2a2b" stroke-width="1"/>
<rect x="1616.70" y="374.20" width="45.50" height="65.50" fill="#fbf7f6" stroke="#2d2a2b" stroke-width="1"/>
<rect x="1685.00" y="229.20" width="45.50" height="210.50" fill="#8f1015" stroke="#2d2a2b" stroke-width="1"/>
<circle cx="1580.50" cy="279.00" r="6.05" fill="#fff" stroke="#231f20" stroke-width="1.15"/>
<circle cx="1562.00" cy="289.00" r="6.05" fill="#fff" stroke="#231f20" stroke-width="1.15"/>
<circle cx="1557.50" cy="294.70" r="6.05" fill="#fff" stroke="#231f20" stroke-width="1.15"/>
<circle cx="1585.00" cy="293.00" r="6.05" fill="#fff" stroke="#231f20" stroke-width="1.15"/>
<circle cx="1571.50" cy="308.50" r="6.05" fill="#fff" stroke="#231f20" stroke-width="1.15"/>
<circle cx="1571.50" cy="356.20" r="6.05" fill="#fff" stroke="#231f20" stroke-width="1.15"/>
<circle cx="1639.50" cy="298.00" r="6.05" fill="#fff" stroke="#231f20" stroke-width="1.15"/>
<circle cx="1626.20" cy="364.00" r="6.05" fill="#fff" stroke="#231f20" stroke-width="1.15"/>
<circle cx="1652.70" cy="362.50" r="6.05" fill="#fff" stroke="#231f20" stroke-width="1.15"/>
<circle cx="1639.50" cy="371.50" r="6.05" fill="#fff" stroke="#231f20" stroke-width="1.15"/>
<circle cx="1648.70" cy="421.50" r="6.05" fill="#fff" stroke="#231f20" stroke-width="1.15"/>
<circle cx="1630.20" cy="431.20" r="6.05" fill="#fff" stroke="#231f20" stroke-width="1.15"/>
<circle cx="1698.20" cy="172.50" r="6.05" fill="#fff" stroke="#231f20" stroke-width="1.15"/>
<circle cx="1716.50" cy="186.00" r="6.05" fill="#fff" stroke="#231f20" stroke-width="1.15"/>
<circle cx="1707.50" cy="218.50" r="6.05" fill="#fff" stroke="#231f20" stroke-width="1.15"/>
<circle cx="1707.50" cy="263.70" r="6.05" fill="#fff" stroke="#231f20" stroke-width="1.15"/>
<circle cx="1707.50" cy="308.50" r="6.05" fill="#fff" stroke="#231f20" stroke-width="1.15"/>
<line x1="1571.50" y1="275.50" x2="1571.50" y2="330.50" stroke="#2d2a2b" stroke-width="1.00"/>
<line x1="1560.30" y1="275.50" x2="1582.70" y2="275.50" stroke="#2d2a2b" stroke-width="1.00"/>
<line x1="1560.30" y1="330.50" x2="1582.70" y2="330.50" stroke="#2d2a2b" stroke-width="1.00"/>
<line x1="1639.50" y1="326.50" x2="1639.50" y2="422.70" stroke="#2d2a2b" stroke-width="1.00"/>
<line x1="1628.30" y1="326.50" x2="1650.70" y2="326.50" stroke="#2d2a2b" stroke-width="1.00"/>
<line x1="1628.30" y1="422.70" x2="1650.70" y2="422.70" stroke="#2d2a2b" stroke-width="1.00"/>
<line x1="1707.50" y1="173.20" x2="1707.50" y2="286.00" stroke="#2d2a2b" stroke-width="1.00"/>
<line x1="1696.30" y1="173.20" x2="1718.70" y2="173.20" stroke="#2d2a2b" stroke-width="1.00"/>
<line x1="1696.30" y1="286.00" x2="1718.70" y2="286.00" stroke="#2d2a2b" stroke-width="1.00"/>
<polyline points="1570.50,221.20 1570.50,111.20 1707.50,111.20 1707.50,122.00" fill="none" stroke="#2d2a2b" stroke-width="1.00"/>
<polyline points="1639.70,217.50 1639.70,149.50 1707.20,149.50 1707.20,160.50" fill="none" stroke="#2d2a2b" stroke-width="1.00"/>
<polyline points="1571.50,257.50 1571.50,245.70 1642.00,245.70 1642.00,278.00" fill="none" stroke="#2d2a2b" stroke-width="1.00"/>
<line x1="1538.20" y1="132.70" x2="1538.20" y2="439.70" stroke="#2d2a2b" stroke-width="1.05"/>
<line x1="1529.20" y1="133.20" x2="1538.20" y2="133.20" stroke="#2d2a2b" stroke-width="1.05"/>
<text transform="translate(1469.77 141.40) scale(1.0329 1)" font-size="24.00" fill="#231f20">0.25</text>
<line x1="1529.20" y1="194.50" x2="1538.20" y2="194.50" stroke="#2d2a2b" stroke-width="1.05"/>
<text transform="translate(1467.53 202.70) scale(1.0805 1)" font-size="24.00" fill="#231f20">0.20</text>
<line x1="1529.20" y1="255.80" x2="1538.20" y2="255.80" stroke="#2d2a2b" stroke-width="1.05"/>
<text transform="translate(1474.16 264.00) scale(0.9370 1)" font-size="24.00" fill="#231f20">0.15</text>
<line x1="1529.20" y1="317.10" x2="1538.20" y2="317.10" stroke="#2d2a2b" stroke-width="1.05"/>
<text transform="translate(1471.61 325.30) scale(0.9914 1)" font-size="24.00" fill="#231f20">0.10</text>
<line x1="1529.20" y1="378.40" x2="1538.20" y2="378.40" stroke="#2d2a2b" stroke-width="1.05"/>
<text transform="translate(1467.22 386.60) scale(1.0887 1)" font-size="24.00" fill="#231f20">0.05</text>
<line x1="1529.20" y1="439.70" x2="1538.20" y2="439.70" stroke="#2d2a2b" stroke-width="1.05"/>
<text transform="translate(1502.66 447.90) scale(1.1545 1)" font-size="24.00" fill="#231f20">0</text>
<line x1="1529.20" y1="439.70" x2="1742.50" y2="439.70" stroke="#2d2a2b" stroke-width="1.05"/>
<line x1="1571.50" y1="439.70" x2="1571.50" y2="448.70" stroke="#2d2a2b" stroke-width="1.05"/>
<line x1="1639.50" y1="439.70" x2="1639.50" y2="448.70" stroke="#2d2a2b" stroke-width="1.05"/>
<line x1="1707.50" y1="439.70" x2="1707.50" y2="448.70" stroke="#2d2a2b" stroke-width="1.05"/>
<text transform="translate(1539.54 492.60) scale(1.1301 1)" font-size="27.80" fill="#231f20" stroke="#fff" stroke-width="0.18">Ctrl</text>
<text transform="translate(1615.27 480.30) scale(0.9860 1)" font-size="27.80" fill="#231f20" stroke="#fff" stroke-width="0.18">Wnt</text>
<text transform="translate(1601.57 505.30) scale(0.9619 1)" font-size="27.80" fill="#231f20" stroke="#fff" stroke-width="0.18">G-O-F</text>
<text transform="translate(1695.97 480.30) scale(0.9880 1)" font-size="27.80" fill="#231f20" stroke="#fff" stroke-width="0.18">Wnt</text>
<text transform="translate(1684.72 505.30) scale(0.9560 1)" font-size="27.80" fill="#231f20" stroke="#fff" stroke-width="0.18">L-O-F</text>
<text transform="translate(1534.52 533.60) scale(0.9378 1)" font-size="27.80" fill="#231f20" stroke="#fff" stroke-width="0.18"><tspan font-style="italic">n</tspan> = 6</text>
<text transform="translate(1610.72 533.60) scale(0.9345 1)" font-size="27.80" fill="#231f20" stroke="#fff" stroke-width="0.18"><tspan font-style="italic">n</tspan> = 6</text>
<text transform="translate(1691.53 533.60) scale(0.9203 1)" font-size="27.80" fill="#231f20" stroke="#fff" stroke-width="0.18"><tspan font-style="italic">n</tspan> = 5</text>
<text transform="translate(1448.10 411.40) rotate(-90) scale(0.9912 1)" font-size="28.30" fill="#231f20" stroke="#fff" stroke-width="0.18">Relative TC number</text>
<text transform="translate(1808.53 33.00) scale(1.1461 1)" font-size="37.60" font-weight="bold" fill="#231f20" stroke="#231f20" stroke-width="0.9" stroke-linejoin="round">e</text>
<text transform="translate(1872.07 72.30) scale(0.9207 1)" font-size="28.20" fill="#231f20" stroke="#fff" stroke-width="0.18">Day 14</text>
<text transform="translate(2025.84 136.50) scale(1.0034 1)" font-size="18.80" fill="#231f20" stroke="#fff" stroke-width="0.18"><tspan font-style="italic">P</tspan> = 0.034</text>
<rect x="1980.20" y="302.50" width="63.30" height="137.20" fill="#f5f9fc" stroke="#2d2a2b" stroke-width="1"/>
<rect x="2081.50" y="218.70" width="64.50" height="221.00" fill="#8f1015" stroke="#2d2a2b" stroke-width="1"/>
<circle cx="2011.70" cy="176.20" r="6.05" fill="#fff" stroke="#231f20" stroke-width="1.15"/>
<circle cx="1984.00" cy="295.70" r="6.05" fill="#fff" stroke="#231f20" stroke-width="1.15"/>
<circle cx="2011.70" cy="297.20" r="6.05" fill="#fff" stroke="#231f20" stroke-width="1.15"/>
<circle cx="1984.00" cy="309.00" r="6.05" fill="#fff" stroke="#231f20" stroke-width="1.15"/>
<circle cx="2039.70" cy="307.70" r="6.05" fill="#fff" stroke="#231f20" stroke-width="1.15"/>
<circle cx="2011.70" cy="416.00" r="6.05" fill="#fff" stroke="#231f20" stroke-width="1.15"/>
<circle cx="2113.50" cy="176.20" r="6.05" fill="#fff" stroke="#231f20" stroke-width="1.15"/>
<circle cx="2113.50" cy="190.20" r="6.05" fill="#fff" stroke="#231f20" stroke-width="1.15"/>
<circle cx="2126.00" cy="210.00" r="6.05" fill="#fff" stroke="#231f20" stroke-width="1.15"/>
<circle cx="2101.20" cy="219.50" r="6.05" fill="#fff" stroke="#231f20" stroke-width="1.15"/>
<circle cx="2113.50" cy="236.00" r="6.05" fill="#fff" stroke="#231f20" stroke-width="1.15"/>
<circle cx="2113.50" cy="270.00" r="6.05" fill="#fff" stroke="#231f20" stroke-width="1.15"/>
<line x1="2011.70" y1="224.20" x2="2011.70" y2="376.50" stroke="#2d2a2b" stroke-width="1.00"/>
<line x1="1994.90" y1="224.20" x2="2028.50" y2="224.20" stroke="#2d2a2b" stroke-width="1.00"/>
<line x1="1994.90" y1="376.50" x2="2028.50" y2="376.50" stroke="#2d2a2b" stroke-width="1.00"/>
<line x1="2113.50" y1="183.20" x2="2113.50" y2="250.20" stroke="#2d2a2b" stroke-width="1.00"/>
<line x1="2096.70" y1="183.20" x2="2130.30" y2="183.20" stroke="#2d2a2b" stroke-width="1.00"/>
<line x1="2096.70" y1="250.20" x2="2130.30" y2="250.20" stroke="#2d2a2b" stroke-width="1.00"/>
<polyline points="2009.50,155.00 2009.50,143.70 2113.50,143.70 2113.50,155.00" fill="none" stroke="#2d2a2b" stroke-width="1.00"/>
<line x1="1961.50" y1="134.00" x2="1961.50" y2="439.70" stroke="#2d2a2b" stroke-width="1.05"/>
<line x1="1952.20" y1="134.50" x2="1961.50" y2="134.50" stroke="#2d2a2b" stroke-width="1.05"/>
<text transform="translate(1855.57 142.70) scale(0.9072 1)" font-size="24.00" fill="#231f20">1.5 × 10<tspan font-size="14.40" dy="-12.00">7</tspan></text>
<line x1="1952.20" y1="236.00" x2="1961.50" y2="236.00" stroke="#2d2a2b" stroke-width="1.05"/>
<text transform="translate(1875.10 244.20) scale(0.8888 1)" font-size="24.00" fill="#231f20">1 × 10<tspan font-size="14.40" dy="-12.00">7</tspan></text>
<line x1="1952.20" y1="337.70" x2="1961.50" y2="337.70" stroke="#2d2a2b" stroke-width="1.05"/>
<text transform="translate(1871.30 345.90) scale(0.9388 1)" font-size="24.00" fill="#231f20">5 × 10<tspan font-size="14.40" dy="-12.00">6</tspan></text>
<line x1="1952.20" y1="439.70" x2="1961.50" y2="439.70" stroke="#2d2a2b" stroke-width="1.05"/>
<text transform="translate(1926.62 447.90) scale(1.1979 1)" font-size="24.00" fill="#231f20">0</text>
<line x1="1952.20" y1="439.70" x2="2166.00" y2="439.70" stroke="#2d2a2b" stroke-width="1.05"/>
<line x1="2011.70" y1="439.70" x2="2011.70" y2="448.70" stroke="#2d2a2b" stroke-width="1.05"/>
<line x1="2113.50" y1="439.70" x2="2113.50" y2="448.70" stroke="#2d2a2b" stroke-width="1.05"/>
<text transform="translate(1987.31 492.60) scale(1.1476 1)" font-size="27.80" fill="#231f20" stroke="#fff" stroke-width="0.18">Ctrl</text>
<text transform="translate(2089.47 480.30) scale(0.9982 1)" font-size="27.80" fill="#231f20" stroke="#fff" stroke-width="0.18">Wnt</text>
<text transform="translate(2078.19 505.30) scale(0.9662 1)" font-size="27.80" fill="#231f20" stroke="#fff" stroke-width="0.18">L-O-F</text>
<text transform="translate(1983.02 533.60) scale(0.9460 1)" font-size="27.80" fill="#231f20" stroke="#fff" stroke-width="0.18"><tspan font-style="italic">n</tspan> = 6</text>
<text transform="translate(2085.02 533.60) scale(0.9378 1)" font-size="27.80" fill="#231f20" stroke="#fff" stroke-width="0.18"><tspan font-style="italic">n</tspan> = 6</text>
<text transform="translate(1831.50 367.43) rotate(-90) scale(0.9988 1)" font-size="28.30" fill="#231f20" stroke="#fff" stroke-width="0.18">TCs per lung</text>
<text transform="translate(-0.33 609.50) scale(1.1811 1)" font-size="37.60" font-weight="bold" fill="#231f20" stroke="#231f20" stroke-width="0.9" stroke-linejoin="round">f</text>
<text transform="translate(367.80 657.50) scale(0.9118 1)" font-size="28.00" fill="#231f20" stroke="#fff" stroke-width="0.18">E0771-GFP</text>
<text transform="translate(72.69 678.20) scale(0.9627 1)" font-size="28.00" fill="#231f20" stroke="#fff" stroke-width="0.18">B6 <tspan font-style="italic">Pdgfb</tspan>-CreERT2 ×</text>
<text transform="translate(133.65 710.70) scale(1.0320 1)" font-size="28.00" fill="#231f20" stroke="#fff" stroke-width="0.18"><tspan font-style="italic">Wls</tspan> floxed</text>
<path d="M203.41,807.68C206.46,806.98 211.02,810.03 215.87,810.50C220.71,810.97 226.94,810.91 232.47,810.50C238.01,810.08 243.54,809.03 249.08,808.01C254.61,806.98 260.15,805.41 265.68,804.35C271.22,803.30 276.75,802.20 282.29,801.70C287.82,801.20 293.91,801.01 298.89,801.37C303.88,801.73 308.44,802.33 312.18,803.86C315.91,805.38 318.96,807.59 321.31,810.50C323.66,813.40 325.88,817.56 326.29,821.29C326.71,825.03 325.88,829.46 323.80,832.92C321.73,836.37 317.99,839.89 313.84,842.05C309.69,844.21 304.15,844.90 298.89,845.87C293.64,846.84 287.82,847.25 282.29,847.86C276.75,848.47 271.22,848.75 265.68,849.52C260.15,850.30 253.23,851.54 249.08,852.51C244.93,853.48 242.77,854.31 240.78,855.33C238.78,856.36 237.40,858.74 237.12,858.65C236.85,858.57 237.68,856.08 239.12,854.83C240.55,853.59 242.44,852.34 245.76,851.18C249.08,850.02 254.34,848.83 259.04,847.86C263.75,846.89 268.73,846.20 273.99,845.37C279.24,844.54 285.33,843.90 290.59,842.88C295.85,841.85 301.38,840.89 305.54,839.23C309.69,837.57 313.15,835.63 315.50,832.92C317.85,830.20 319.51,826.14 319.65,822.95C319.79,819.77 318.41,816.09 316.33,813.82C314.25,811.55 311.21,810.17 307.20,809.34C303.18,808.51 297.79,808.45 292.25,808.84C286.72,809.23 280.63,810.42 273.99,811.66C267.34,812.91 259.32,814.98 252.40,816.31C245.48,817.64 238.56,819.08 232.47,819.63C226.38,820.18 220.57,820.05 215.87,819.63C211.16,819.22 207.29,817.97 204.24,817.14C201.20,816.31 197.74,816.23 197.60,814.65C197.46,813.07 200.37,808.37 203.41,807.68Z" fill="#edb1b9" stroke="#231f20" stroke-width="1.10" stroke-linejoin="round" stroke-linecap="round"/>
<path d="M1.33,798.38C1.33,797.27 1.88,796.30 3.32,794.72C4.76,793.15 6.92,791.40 9.96,788.91C13.01,786.42 17.71,782.68 21.59,779.78C25.46,776.87 29.75,774.02 33.21,771.48C36.67,768.93 39.58,766.44 42.34,764.50C45.11,762.56 46.36,760.77 49.82,759.85C53.28,758.94 58.53,759.30 63.10,759.02C67.67,758.75 72.79,759.30 77.21,758.19C81.64,757.09 85.38,753.90 89.67,752.38C93.96,750.86 98.52,750.08 102.95,749.06C107.38,748.04 111.81,747.34 116.24,746.24C120.66,745.13 125.09,743.25 129.52,742.42C133.95,741.59 138.10,741.12 142.80,741.25C147.51,741.39 152.77,742.08 157.75,743.25C162.73,744.41 167.99,746.15 172.69,748.23C177.40,750.30 181.83,752.38 185.98,755.70C190.13,759.02 194.56,763.87 197.60,768.16C200.65,772.44 202.58,777.01 204.24,781.44C205.90,785.87 207.15,790.85 207.57,794.72C207.98,798.60 207.43,802.47 206.74,804.69C206.04,806.90 204.94,806.29 203.41,808.01C201.89,809.72 199.68,813.04 197.60,814.98C195.53,816.92 194.00,817.89 190.96,819.63C187.92,821.37 183.49,823.92 179.34,825.44C175.19,826.97 170.48,828.13 166.05,828.76C161.62,829.40 156.09,829.40 152.77,829.26C149.45,829.12 148.62,828.43 146.13,827.93C143.64,827.44 141.14,827.10 137.82,826.27C134.50,825.44 130.35,823.84 126.20,822.95C122.05,822.07 117.62,820.90 112.92,820.96C108.21,821.02 102.95,822.12 97.97,823.28C92.99,824.45 87.87,826.33 83.03,827.93C78.18,829.54 71.68,832.64 68.91,832.92C66.14,833.19 68.22,830.42 66.42,829.59C64.62,828.76 58.53,830.29 58.12,827.93C57.70,825.58 64.21,818.39 63.93,815.48C63.65,812.57 59.92,812.16 56.46,810.50C53.00,808.84 47.60,806.07 43.17,805.52C38.75,804.96 34.04,806.76 29.89,807.18C25.74,807.59 21.86,808.42 18.27,808.01C14.67,807.59 10.79,805.79 8.30,804.69C5.81,803.58 4.48,802.42 3.32,801.37C2.16,800.31 1.33,799.48 1.33,798.38Z" fill="#898b8e" stroke="none" stroke-width="0.00" stroke-linejoin="round" stroke-linecap="round"/>
<path d="M1.33,798.38C1.66,797.77 1.88,796.30 3.32,794.72C4.76,793.15 6.92,791.40 9.96,788.91C13.01,786.42 17.71,782.68 21.59,779.78C25.46,776.87 29.75,774.02 33.21,771.48C36.67,768.93 40.82,765.66 42.34,764.50" fill="none" stroke="#231f20" stroke-width="1.20" stroke-linejoin="round" stroke-linecap="round"/>
<path d="M203.41,808.01C202.45,809.17 199.68,813.04 197.60,814.98C195.53,816.92 194.00,817.89 190.96,819.63C187.92,821.37 183.49,823.92 179.34,825.44C175.19,826.97 170.48,828.13 166.05,828.76C161.62,829.40 156.09,829.40 152.77,829.26C149.45,829.12 148.62,828.43 146.13,827.93C143.64,827.44 141.14,827.10 137.82,826.27C134.50,825.44 130.35,823.84 126.20,822.95C122.05,822.07 117.62,820.90 112.92,820.96C108.21,821.02 102.95,822.12 97.97,823.28C92.99,824.45 87.87,826.33 83.03,827.93C78.18,829.54 71.26,832.09 68.91,832.92" fill="none" stroke="#231f20" stroke-width="1.10" stroke-linejoin="round" stroke-linecap="round"/>
<path d="M63.93,815.48C62.68,814.65 59.92,812.16 56.46,810.50C53.00,808.84 47.60,806.07 43.17,805.52C38.75,804.96 34.04,806.76 29.89,807.18C25.74,807.59 21.86,808.42 18.27,808.01C14.67,807.59 10.79,805.79 8.30,804.69C5.81,803.58 4.48,802.42 3.32,801.37C2.16,800.31 1.66,798.87 1.33,798.38" fill="none" stroke="#231f20" stroke-width="1.20" stroke-linejoin="round" stroke-linecap="round"/>
<line x1="75.38" y1="759.57" x2="79.05" y2="756.81" stroke="#231f20" stroke-width="1.15"/>
<line x1="78.65" y1="758.44" x2="81.69" y2="754.99" stroke="#231f20" stroke-width="1.15"/>
<line x1="81.30" y1="756.65" x2="84.94" y2="753.84" stroke="#231f20" stroke-width="1.15"/>
<line x1="84.51" y1="755.50" x2="87.70" y2="752.18" stroke="#231f20" stroke-width="1.15"/>
<line x1="87.19" y1="753.78" x2="91.11" y2="751.36" stroke="#231f20" stroke-width="1.15"/>
<line x1="90.46" y1="752.94" x2="94.11" y2="750.14" stroke="#231f20" stroke-width="1.15"/>
<line x1="93.39" y1="751.68" x2="97.57" y2="749.74" stroke="#231f20" stroke-width="1.15"/>
<line x1="96.79" y1="751.28" x2="100.61" y2="748.71" stroke="#231f20" stroke-width="1.15"/>
<line x1="99.82" y1="750.23" x2="104.03" y2="748.35" stroke="#231f20" stroke-width="1.15"/>
<line x1="103.23" y1="749.85" x2="107.06" y2="747.30" stroke="#231f20" stroke-width="1.15"/>
<line x1="106.26" y1="748.81" x2="110.50" y2="747.03" stroke="#231f20" stroke-width="1.15"/>
<line x1="109.70" y1="748.54" x2="113.53" y2="746.00" stroke="#231f20" stroke-width="1.15"/>
<line x1="111.64" y1="747.14" x2="118.04" y2="746.01" stroke="#231f20" stroke-width="1.15"/>
<line x1="117.22" y1="747.10" x2="122.49" y2="743.29" stroke="#231f20" stroke-width="1.15"/>
<line x1="122.16" y1="745.50" x2="127.46" y2="741.73" stroke="#231f20" stroke-width="1.15"/>
<line x1="126.63" y1="742.78" x2="133.07" y2="741.93" stroke="#231f20" stroke-width="1.15"/>
<line x1="132.04" y1="742.94" x2="137.95" y2="740.23" stroke="#231f20" stroke-width="1.15"/>
<line x1="137.11" y1="742.31" x2="143.25" y2="740.17" stroke="#231f20" stroke-width="1.15"/>
<line x1="142.15" y1="741.00" x2="148.60" y2="741.76" stroke="#231f20" stroke-width="1.15"/>
<line x1="147.35" y1="742.51" x2="153.74" y2="741.33" stroke="#231f20" stroke-width="1.15"/>
<line x1="152.44" y1="743.17" x2="158.90" y2="742.42" stroke="#231f20" stroke-width="1.15"/>
<line x1="157.63" y1="743.00" x2="163.82" y2="745.00" stroke="#231f20" stroke-width="1.15"/>
<line x1="162.45" y1="745.50" x2="168.95" y2="745.54" stroke="#231f20" stroke-width="1.15"/>
<line x1="167.33" y1="747.10" x2="173.82" y2="747.56" stroke="#231f20" stroke-width="1.15"/>
<line x1="173.84" y1="747.41" x2="176.83" y2="751.42" stroke="#231f20" stroke-width="1.15"/>
<line x1="178.38" y1="748.95" x2="180.01" y2="753.68" stroke="#231f20" stroke-width="1.15"/>
<line x1="181.73" y1="751.28" x2="184.07" y2="755.69" stroke="#231f20" stroke-width="1.15"/>
<line x1="186.03" y1="753.55" x2="186.71" y2="758.50" stroke="#231f20" stroke-width="1.15"/>
<line x1="188.82" y1="756.50" x2="190.33" y2="761.27" stroke="#231f20" stroke-width="1.15"/>
<line x1="192.60" y1="759.47" x2="192.56" y2="764.47" stroke="#231f20" stroke-width="1.15"/>
<line x1="194.93" y1="762.77" x2="195.83" y2="767.69" stroke="#231f20" stroke-width="1.15"/>
<line x1="198.31" y1="766.19" x2="197.60" y2="771.14" stroke="#231f20" stroke-width="1.15"/>
<line x1="200.21" y1="769.83" x2="200.20" y2="774.83" stroke="#231f20" stroke-width="1.15"/>
<line x1="202.93" y1="773.82" x2="201.29" y2="778.55" stroke="#231f20" stroke-width="1.15"/>
<line x1="204.09" y1="777.68" x2="203.42" y2="782.64" stroke="#231f20" stroke-width="1.15"/>
<line x1="206.28" y1="781.95" x2="204.13" y2="786.46" stroke="#231f20" stroke-width="1.15"/>
<line x1="207.03" y1="785.92" x2="205.74" y2="790.76" stroke="#231f20" stroke-width="1.15"/>
<line x1="208.65" y1="790.47" x2="205.88" y2="794.63" stroke="#231f20" stroke-width="1.15"/>
<line x1="208.84" y1="794.60" x2="206.56" y2="799.05" stroke="#231f20" stroke-width="1.15"/>
<line x1="209.40" y1="799.51" x2="205.55" y2="802.71" stroke="#231f20" stroke-width="1.15"/>
<line x1="208.49" y1="803.77" x2="204.51" y2="806.80" stroke="#231f20" stroke-width="1.15"/>
<path d="M41.51,830.42C42.20,829.18 45.66,827.74 48.16,827.10C50.65,826.47 53.69,826.33 56.46,826.61C59.23,826.88 62.68,827.71 64.76,828.76C66.84,829.82 68.36,831.67 68.91,832.92C69.47,834.16 69.88,835.27 68.08,836.24C66.28,837.21 61.16,838.40 58.12,838.73C55.07,839.06 52.17,838.92 49.82,838.23C47.46,837.54 45.39,835.88 44.00,834.58C42.62,833.28 40.82,831.67 41.51,830.42Z" fill="#edb1b9" stroke="#231f20" stroke-width="1.00" stroke-linejoin="round" stroke-linecap="round"/>
<path d="M117.57,828.76C118.12,827.88 120.33,826.69 122.88,826.27C125.42,825.86 129.24,826.05 132.84,826.27C136.44,826.49 141.14,827.19 144.47,827.60C147.79,828.02 151.94,828.02 152.77,828.76C153.60,829.51 151.94,831.06 149.45,832.09C146.96,833.11 141.14,834.77 137.82,834.91C134.50,835.05 132.57,833.47 129.52,832.92C126.48,832.36 121.55,832.28 119.56,831.59C117.57,830.90 117.01,829.65 117.57,828.76Z" fill="#edb1b9" stroke="#231f20" stroke-width="1.00" stroke-linejoin="round" stroke-linecap="round"/>
<line x1="41.51" y1="830.42" x2="43.51" y2="827.93" stroke="#231f20" stroke-width="1.30"/>
<line x1="42.84" y1="834.58" x2="45.66" y2="831.59" stroke="#231f20" stroke-width="1.30"/>
<line x1="44.83" y1="838.23" x2="48.16" y2="834.58" stroke="#231f20" stroke-width="1.30"/>
<line x1="50.65" y1="840.39" x2="53.14" y2="836.24" stroke="#231f20" stroke-width="1.30"/>
<line x1="117.57" y1="829.26" x2="119.89" y2="827.10" stroke="#231f20" stroke-width="1.30"/>
<line x1="119.56" y1="832.92" x2="122.55" y2="829.93" stroke="#231f20" stroke-width="1.30"/>
<line x1="124.54" y1="835.41" x2="127.03" y2="831.59" stroke="#231f20" stroke-width="1.30"/>
<path d="M132.84,828.76C133.95,828.90 137.27,829.68 139.48,829.59C141.70,829.51 145.02,828.49 146.13,828.27" fill="none" stroke="#231f20" stroke-width="2.20" stroke-linejoin="round" stroke-linecap="round"/>
<path d="M42.84,763.51C41.32,761.57 44.23,758.11 45.66,755.70C47.10,753.29 49.40,750.91 51.48,749.06C53.55,747.20 56.32,745.54 58.12,744.58C59.92,743.61 60.89,743.19 62.27,743.25C63.65,743.30 64.62,743.94 66.42,744.91C68.22,745.88 71.35,747.26 73.06,749.06C74.78,750.86 76.02,753.49 76.72,755.70C77.41,757.92 77.55,760.13 77.21,762.34C76.88,764.56 75.97,767.13 74.72,768.99C73.48,770.84 71.68,773.33 69.74,773.47C67.80,773.61 65.59,770.84 63.10,769.82C60.61,768.79 58.17,768.38 54.80,767.32C51.42,766.27 44.36,765.44 42.84,763.51Z" fill="#898b8e" stroke="none" stroke-width="0.00" stroke-linejoin="round" stroke-linecap="round"/>
<path d="M58.12,759.02C57.76,756.39 58.87,753.68 60.11,751.55C61.36,749.42 63.65,746.79 65.59,746.24C67.53,745.68 69.99,746.73 71.73,748.23C73.48,749.72 75.39,752.66 76.05,755.20C76.72,757.75 76.44,760.93 75.72,763.51C75.00,766.08 73.15,769.26 71.73,770.65C70.32,772.03 68.83,772.36 67.25,771.81C65.67,771.25 63.79,769.46 62.27,767.32C60.75,765.19 58.48,761.65 58.12,759.02Z" fill="#edb1b9" stroke="none" stroke-width="0.00" stroke-linejoin="round" stroke-linecap="round"/>
<path d="M42.84,763.51C43.31,762.20 44.23,758.11 45.66,755.70C47.10,753.29 49.40,750.91 51.48,749.06C53.55,747.20 56.32,745.54 58.12,744.58C59.92,743.61 60.89,743.19 62.27,743.25C63.65,743.30 64.62,743.94 66.42,744.91C68.22,745.88 71.35,747.26 73.06,749.06C74.78,750.86 76.02,753.49 76.72,755.70C77.41,757.92 77.55,760.13 77.21,762.34C76.88,764.56 75.97,767.13 74.72,768.99C73.48,770.84 70.57,772.72 69.74,773.47" fill="none" stroke="#231f20" stroke-width="1.30" stroke-linejoin="round" stroke-linecap="round"/>
<path d="M49.48,768.16C49.82,766.63 50.18,762.07 51.48,759.02C52.78,755.98 55.21,752.30 57.29,749.89C59.36,747.48 62.82,745.46 63.93,744.58" fill="none" stroke="#231f20" stroke-width="1.00" stroke-linejoin="round" stroke-linecap="round"/>
<path d="M55.63,770.15C55.82,768.71 55.96,764.34 56.79,761.51C57.62,758.69 59.06,755.76 60.61,753.21C62.16,750.66 65.18,747.40 66.09,746.24" fill="none" stroke="#231f20" stroke-width="1.00" stroke-linejoin="round" stroke-linecap="round"/>
<path d="M57.29,764.83C57.56,765.25 58.26,766.63 58.95,767.32C59.64,768.02 61.02,768.71 61.44,768.99" fill="none" stroke="#231f20" stroke-width="0.80" stroke-linejoin="round" stroke-linecap="round"/>
<path d="M126.53,797.21C127.58,798.18 131.24,800.40 132.84,803.03C134.45,805.66 135.19,809.94 136.16,812.99C137.13,816.03 137.55,819.08 138.65,821.29C139.76,823.51 142.11,825.44 142.80,826.27" fill="none" stroke="#231f20" stroke-width="1.10" stroke-linejoin="round" stroke-linecap="round"/>
<path d="M102.95,809.67C102.73,810.78 103.01,814.23 101.62,816.31C100.24,818.39 97.75,820.24 94.65,822.12C91.55,824.00 87.32,825.75 83.03,827.60C78.74,829.46 71.26,832.31 68.91,833.25" fill="none" stroke="#231f20" stroke-width="1.10" stroke-linejoin="round" stroke-linecap="round"/>
<path d="M56.46,810.50C57.98,811.19 63.38,813.13 65.59,814.65C67.80,816.17 69.47,817.69 69.74,819.63C70.02,821.57 68.91,824.83 67.25,826.27C65.59,827.71 61.02,827.93 59.78,828.27" fill="none" stroke="#231f20" stroke-width="1.10" stroke-linejoin="round" stroke-linecap="round"/>
<path d="M63.93,815.48C63.57,816.45 63.02,819.49 61.77,821.29C60.53,823.09 57.34,825.44 56.46,826.27" fill="none" stroke="#231f20" stroke-width="1.10" stroke-linejoin="round" stroke-linecap="round"/>
<circle cx="36.53" cy="783.93" r="6.20" fill="#111" stroke="#111" stroke-width="0.50"/>
<circle cx="35.54" cy="783.60" r="2.90" fill="#fff" stroke="#fff" stroke-width="0.00"/>
<line x1="19.59" y1="797.21" x2="26.57" y2="799.71" stroke="#555" stroke-width="0.70"/>
<line x1="19.59" y1="798.87" x2="26.57" y2="801.03" stroke="#555" stroke-width="0.70"/>
<line x1="19.59" y1="800.54" x2="26.57" y2="802.36" stroke="#555" stroke-width="0.70"/>
<line x1="285.91" y1="794.88" x2="297.54" y2="788.73" stroke="#555" stroke-width="0.80"/>
<polygon points="295.88,785.41 316.63,774.62 319.95,780.43 299.20,791.56" fill="#e6e7e8" stroke="#231f20" stroke-width="1"/>
<line x1="316.63" y1="774.62" x2="339.05" y2="762.16" stroke="#231f20" stroke-width="1.05"/>
<line x1="319.95" y1="780.43" x2="343.20" y2="767.98" stroke="#231f20" stroke-width="1.05"/>
<line x1="318.29" y1="777.61" x2="341.04" y2="765.15" stroke="#231f20" stroke-width="1.05"/>
<line x1="336.56" y1="755.52" x2="345.69" y2="771.30" stroke="#231f20" stroke-width="1.10"/>
<line x1="341.04" y1="765.15" x2="351.50" y2="758.01" stroke="#231f20" stroke-width="1.20"/>
<line x1="349.01" y1="753.36" x2="353.99" y2="762.16" stroke="#231f20" stroke-width="1.30"/>
<path d="M389.20,679.00 A86.4,86.4 0 0 0 435.20,818.90" fill="none" stroke="#231f20" stroke-width="1.8"/>
<circle cx="428.20" cy="701.50" r="11.00" fill="#74b973" stroke="none" stroke-width="0.00"/>
<circle cx="428.20" cy="701.50" r="5.20" fill="#0b8a40" stroke="none" stroke-width="0.00"/>
<circle cx="406.70" cy="728.70" r="11.00" fill="#74b973" stroke="none" stroke-width="0.00"/>
<circle cx="406.70" cy="728.70" r="5.20" fill="#0b8a40" stroke="none" stroke-width="0.00"/>
<circle cx="451.70" cy="723.00" r="11.00" fill="#74b973" stroke="none" stroke-width="0.00"/>
<circle cx="451.70" cy="723.00" r="5.20" fill="#0b8a40" stroke="none" stroke-width="0.00"/>
<circle cx="431.90" cy="740.50" r="11.00" fill="#74b973" stroke="none" stroke-width="0.00"/>
<circle cx="431.90" cy="740.50" r="5.20" fill="#0b8a40" stroke="none" stroke-width="0.00"/>
<circle cx="452.90" cy="762.70" r="11.00" fill="#74b973" stroke="none" stroke-width="0.00"/>
<circle cx="452.90" cy="762.70" r="5.20" fill="#0b8a40" stroke="none" stroke-width="0.00"/>
<circle cx="424.20" cy="775.70" r="11.00" fill="#74b973" stroke="none" stroke-width="0.00"/>
<circle cx="424.20" cy="775.70" r="5.20" fill="#0b8a40" stroke="none" stroke-width="0.00"/>
<rect x="87" y="877" width="126.2" height="32" fill="url(#gg)"/>
<line x1="87.00" y1="876.00" x2="521.70" y2="876.00" stroke="#231f20" stroke-width="3.50"/>
<line x1="282.70" y1="856.00" x2="282.70" y2="877.00" stroke="#231f20" stroke-width="3.00"/>
<text transform="translate(88.54 905.00) scale(0.8831 1)" font-size="23.00" fill="#231f20">−12</text>
<text transform="translate(188.16 905.00) scale(0.9495 1)" font-size="23.00" fill="#231f20">−7</text>
<text transform="translate(487.03 905.00) scale(0.9699 1)" font-size="23.00" fill="#231f20">14</text>
<text transform="translate(82.97 935.50) scale(1.0208 1)" font-size="28.00" fill="#231f20" stroke="#fff" stroke-width="0.18">Tamoxifen</text>
<text transform="translate(615.51 631.50) scale(0.9913 1)" font-size="28.20" fill="#231f20" stroke="#fff" stroke-width="0.18">2 weeks</text>
<text transform="translate(748.54 667.80) scale(1.0170 1)" font-size="18.80" fill="#231f20" stroke="#fff" stroke-width="0.18"><tspan font-style="italic">P</tspan> = 0.028</text>
<rect x="707.20" y="963.00" width="68.30" height="17.70" fill="#f5f9fc" stroke="#2d2a2b" stroke-width="1"/>
<rect x="809.20" y="893.70" width="67.80" height="87.00" fill="#8f1015" stroke="#2d2a2b" stroke-width="1"/>
<circle cx="741.20" cy="938.00" r="6.05" fill="#fff" stroke="#231f20" stroke-width="1.15"/>
<circle cx="723.00" cy="948.70" r="6.05" fill="#fff" stroke="#231f20" stroke-width="1.15"/>
<circle cx="759.50" cy="958.00" r="6.05" fill="#fff" stroke="#231f20" stroke-width="1.15"/>
<circle cx="750.20" cy="963.70" r="6.05" fill="#fff" stroke="#231f20" stroke-width="1.15"/>
<circle cx="731.70" cy="966.00" r="6.05" fill="#fff" stroke="#231f20" stroke-width="1.15"/>
<circle cx="724.00" cy="970.20" r="6.05" fill="#fff" stroke="#231f20" stroke-width="1.15"/>
<circle cx="758.00" cy="970.00" r="6.05" fill="#fff" stroke="#231f20" stroke-width="1.15"/>
<circle cx="746.20" cy="971.00" r="6.05" fill="#fff" stroke="#231f20" stroke-width="1.15"/>
<circle cx="735.50" cy="979.20" r="6.05" fill="#fff" stroke="#231f20" stroke-width="1.15"/>
<circle cx="842.70" cy="707.70" r="6.05" fill="#fff" stroke="#231f20" stroke-width="1.15"/>
<circle cx="843.00" cy="837.50" r="6.05" fill="#fff" stroke="#231f20" stroke-width="1.15"/>
<circle cx="843.00" cy="862.20" r="6.05" fill="#fff" stroke="#231f20" stroke-width="1.15"/>
<circle cx="843.00" cy="884.20" r="6.05" fill="#fff" stroke="#231f20" stroke-width="1.15"/>
<circle cx="843.00" cy="920.20" r="6.05" fill="#fff" stroke="#231f20" stroke-width="1.15"/>
<circle cx="833.50" cy="940.70" r="6.05" fill="#fff" stroke="#231f20" stroke-width="1.15"/>
<circle cx="861.20" cy="953.70" r="6.05" fill="#fff" stroke="#231f20" stroke-width="1.15"/>
<circle cx="852.00" cy="968.00" r="6.05" fill="#fff" stroke="#231f20" stroke-width="1.15"/>
<circle cx="833.50" cy="972.20" r="6.05" fill="#fff" stroke="#231f20" stroke-width="1.15"/>
<line x1="741.20" y1="950.20" x2="741.20" y2="974.20" stroke="#2d2a2b" stroke-width="1.00"/>
<line x1="724.70" y1="950.20" x2="757.70" y2="950.20" stroke="#2d2a2b" stroke-width="1.00"/>
<line x1="724.70" y1="974.20" x2="757.70" y2="974.20" stroke="#2d2a2b" stroke-width="1.00"/>
<line x1="843.00" y1="809.50" x2="843.00" y2="978.50" stroke="#2d2a2b" stroke-width="1.00"/>
<line x1="826.20" y1="809.50" x2="859.80" y2="809.50" stroke="#2d2a2b" stroke-width="1.00"/>
<line x1="826.20" y1="978.50" x2="859.80" y2="978.50" stroke="#2d2a2b" stroke-width="1.00"/>
<polyline points="738.00,896.70 738.00,679.00 840.50,679.00 840.50,690.00" fill="none" stroke="#2d2a2b" stroke-width="1.00"/>
<line x1="691.00" y1="675.20" x2="691.00" y2="980.70" stroke="#2d2a2b" stroke-width="1.05"/>
<line x1="682.00" y1="675.70" x2="691.00" y2="675.70" stroke="#2d2a2b" stroke-width="1.05"/>
<text transform="translate(603.43 683.90) scale(1.1174 1)" font-size="24.00" fill="#231f20">5,000</text>
<line x1="682.00" y1="736.70" x2="691.00" y2="736.70" stroke="#2d2a2b" stroke-width="1.05"/>
<text transform="translate(603.90 744.90) scale(1.1094 1)" font-size="24.00" fill="#231f20">4,000</text>
<line x1="682.00" y1="797.70" x2="691.00" y2="797.70" stroke="#2d2a2b" stroke-width="1.05"/>
<text transform="translate(603.50 805.90) scale(1.1162 1)" font-size="24.00" fill="#231f20">3,000</text>
<line x1="682.00" y1="858.70" x2="691.00" y2="858.70" stroke="#2d2a2b" stroke-width="1.05"/>
<text transform="translate(603.66 866.90) scale(1.1134 1)" font-size="24.00" fill="#231f20">2,000</text>
<line x1="682.00" y1="919.70" x2="691.00" y2="919.70" stroke="#2d2a2b" stroke-width="1.05"/>
<text transform="translate(605.55 927.90) scale(1.0814 1)" font-size="24.00" fill="#231f20">1,000</text>
<line x1="682.00" y1="980.70" x2="691.00" y2="980.70" stroke="#2d2a2b" stroke-width="1.05"/>
<text transform="translate(655.16 988.90) scale(1.1545 1)" font-size="24.00" fill="#231f20">0</text>
<line x1="682.00" y1="980.70" x2="895.00" y2="980.70" stroke="#2d2a2b" stroke-width="1.05"/>
<line x1="741.20" y1="980.70" x2="741.20" y2="989.70" stroke="#2d2a2b" stroke-width="1.05"/>
<line x1="843.00" y1="980.70" x2="843.00" y2="989.70" stroke="#2d2a2b" stroke-width="1.05"/>
<text transform="translate(717.02 1021.60) scale(1.1426 1)" font-size="27.80" fill="#231f20" stroke="#fff" stroke-width="0.18">Ctrl</text>
<text transform="translate(801.81 1021.60) scale(0.9599 1)" font-size="27.80" fill="#231f20" stroke="#fff" stroke-width="0.18">iECKO</text>
<text transform="translate(712.02 1074.10) scale(0.9470 1)" font-size="27.80" fill="#231f20" stroke="#fff" stroke-width="0.18"><tspan font-style="italic">n</tspan> = 9</text>
<text transform="translate(815.02 1074.10) scale(0.9470 1)" font-size="27.80" fill="#231f20" stroke="#fff" stroke-width="0.18"><tspan font-style="italic">n</tspan> = 9</text>
<text transform="translate(578.00 977.93) rotate(-90) scale(1.0044 1)" font-size="28.30" fill="#231f20" stroke="#fff" stroke-width="0.18">TCs per mg lung tissue</text>
<text transform="translate(969.84 610.00) scale(1.2060 1)" font-size="37.60" font-weight="bold" fill="#231f20" stroke="#231f20" stroke-width="0.9" stroke-linejoin="round">g</text>
<text transform="translate(969.67 648.70) scale(0.9693 1)" font-size="28.00" fill="#231f20" stroke="#fff" stroke-width="0.18">NOD-SCID</text>
<path d="M1016.57,896.27C1015.34,898.58 1020.10,905.04 1023.03,910.11C1025.95,915.18 1031.02,921.18 1034.10,926.72C1037.17,932.25 1040.86,938.09 1041.48,943.32C1042.09,948.55 1040.55,953.47 1037.79,958.08C1035.02,962.69 1028.56,966.38 1024.87,971.00C1021.18,975.61 1017.64,980.53 1015.65,985.76C1013.65,990.98 1012.88,997.13 1012.88,1002.36C1012.88,1007.59 1014.11,1012.66 1015.65,1017.12C1017.18,1021.58 1021.49,1030.96 1022.10,1029.11C1022.72,1027.27 1019.49,1012.97 1019.34,1006.05C1019.18,999.13 1019.34,993.14 1021.18,987.60C1023.03,982.07 1026.72,977.76 1030.41,972.84C1034.10,967.92 1040.25,963.00 1043.32,958.08C1046.40,953.16 1048.55,948.55 1048.86,943.32C1049.16,938.09 1047.63,932.25 1045.17,926.72C1042.71,921.18 1036.56,915.18 1034.10,910.11C1031.64,905.04 1033.33,898.58 1030.41,896.27C1027.48,893.97 1017.80,893.97 1016.57,896.27Z" fill="#edb1b9" stroke="#231f20" stroke-width="1.60" stroke-linejoin="round" stroke-linecap="round"/>
<path d="M949.23,881.51C951.69,881.05 956.91,884.28 960.30,886.13C963.68,887.97 966.29,891.05 969.52,892.58C972.75,894.12 978.75,893.04 979.67,895.35C980.59,897.66 976.75,904.02 975.06,906.42C973.36,908.82 971.37,910.05 969.52,909.74C967.68,909.43 965.83,906.97 963.99,904.58C962.14,902.18 961.53,897.96 958.45,895.35C955.38,892.74 947.07,891.20 945.54,888.89C944.00,886.59 946.77,881.97 949.23,881.51Z" fill="#edb1b9" stroke="#231f20" stroke-width="1.50" stroke-linejoin="round" stroke-linecap="round"/>
<path d="M1065.46,892.58C1067.31,891.05 1071.00,889.05 1072.84,889.82C1074.69,890.58 1072.84,894.74 1076.53,897.20C1080.22,899.66 1090.68,901.50 1094.98,904.58C1099.29,907.65 1100.52,912.02 1102.36,915.65C1104.21,919.27 1106.97,926.19 1106.05,926.35C1105.13,926.50 1099.29,917.43 1096.83,916.57C1094.37,915.71 1093.14,921.64 1091.29,921.18C1089.45,920.72 1088.52,916.11 1085.76,913.80C1082.99,911.49 1078.38,908.88 1074.69,907.34C1071.00,905.81 1065.77,905.96 1063.62,904.58C1061.46,903.19 1061.46,901.04 1061.77,899.04C1062.08,897.04 1063.62,894.12 1065.46,892.58Z" fill="#edb1b9" stroke="#231f20" stroke-width="1.50" stroke-linejoin="round" stroke-linecap="round"/>
<path d="M957.53,705.35C958.45,703.66 961.37,702.89 963.06,702.58C964.75,702.28 966.60,702.12 967.68,703.51C968.75,704.89 968.60,708.43 969.52,710.89C970.44,713.35 973.52,716.73 973.21,718.27C972.90,719.80 969.37,720.42 967.68,720.11C965.98,719.80 964.75,717.65 963.06,716.42C961.37,715.19 958.45,714.58 957.53,712.73C956.61,710.89 956.61,707.04 957.53,705.35Z" fill="#edb1b9" stroke="#231f20" stroke-width="1.50" stroke-linejoin="round" stroke-linecap="round"/>
<path d="M1078.38,740.41C1079.15,738.35 1082.22,732.72 1083.91,732.10C1085.60,731.49 1087.14,735.02 1088.52,736.72C1089.91,738.41 1092.68,741.02 1092.21,742.25C1091.75,743.48 1087.91,743.73 1085.76,744.10C1083.60,744.46 1080.53,745.08 1079.30,744.46C1078.07,743.85 1077.61,742.47 1078.38,740.41Z" fill="#edb1b9" stroke="#231f20" stroke-width="1.50" stroke-linejoin="round" stroke-linecap="round"/>
<path d="M1029.48,669.37C1027.79,671.37 1022.26,676.91 1019.34,681.37C1016.41,685.82 1014.11,691.51 1011.96,696.13C1009.80,700.74 1007.80,704.74 1006.42,709.04C1005.04,713.35 1005.04,720.05 1003.65,721.96C1002.27,723.86 999.66,720.33 998.12,720.48C996.58,720.63 995.81,721.40 994.43,722.88C993.04,724.35 991.51,728.57 989.82,729.34C988.12,730.10 987.05,729.27 984.28,727.49C981.51,725.71 975.06,720.11 973.21,718.63" fill="none" stroke="#231f20" stroke-width="2.20" stroke-linejoin="round" stroke-linecap="round"/>
<path d="M964.91,720.11C966.91,722.26 972.44,729.03 976.90,733.03C981.36,737.02 987.66,741.94 991.66,744.10C995.66,746.25 1000.58,741.94 1000.89,745.94C1001.19,749.94 995.81,759.47 993.51,768.08C991.20,776.69 987.82,789.61 987.05,797.60C986.28,805.60 987.66,809.90 988.89,816.05C990.12,822.20 994.58,829.74 994.43,834.50C994.27,839.26 990.28,841.85 987.97,844.61C985.66,847.37 982.28,847.23 980.59,851.07C978.90,854.91 978.13,862.45 977.82,867.68C977.52,872.90 979.05,877.98 978.75,882.44C978.44,886.89 976.44,892.43 975.98,894.43" fill="none" stroke="#231f20" stroke-width="2.20" stroke-linejoin="round" stroke-linecap="round"/>
<path d="M1031.33,669.37C1033.02,671.06 1038.55,675.06 1041.48,679.52C1044.40,683.98 1047.01,690.90 1048.86,696.13C1050.70,701.35 1051.87,705.97 1052.55,710.89C1053.22,715.81 1052.30,721.96 1052.92,725.65C1053.53,729.34 1055.07,730.26 1056.24,733.03C1057.40,735.79 1058.39,740.25 1059.93,742.25C1061.46,744.25 1062.39,745.33 1065.46,745.02C1068.54,744.71 1076.22,741.17 1078.38,740.41" fill="none" stroke="#231f20" stroke-width="2.20" stroke-linejoin="round" stroke-linecap="round"/>
<path d="M1082.07,745.02C1080.53,746.56 1076.22,751.63 1072.84,754.24C1069.46,756.86 1064.54,760.24 1061.77,760.70C1059.00,761.16 1056.24,754.55 1056.24,757.01C1056.24,759.47 1060.39,768.70 1061.77,775.46C1063.15,782.23 1064.54,790.22 1064.54,797.60C1064.54,804.98 1063.15,812.98 1061.77,819.74C1060.39,826.51 1056.54,834.20 1056.24,838.19C1055.93,842.18 1058.39,841.54 1059.93,843.69C1061.46,845.84 1063.15,847.69 1065.46,851.07C1067.77,854.45 1071.98,859.68 1073.76,863.99C1075.55,868.29 1076.16,872.60 1076.16,876.90C1076.16,881.21 1074.16,887.66 1073.76,889.82" fill="none" stroke="#231f20" stroke-width="2.20" stroke-linejoin="round" stroke-linecap="round"/>
<path d="M980.59,897.20C982.13,895.97 986.74,892.21 989.82,889.82C992.89,887.42 995.97,883.11 999.04,882.80C1002.12,882.50 1005.50,885.88 1008.27,887.97C1011.03,890.06 1011.96,894.12 1015.65,895.35C1019.34,896.58 1025.79,896.43 1030.41,895.35C1035.02,894.27 1039.94,890.98 1043.32,888.89C1046.70,886.80 1048.24,883.42 1050.70,882.80C1053.16,882.19 1055.62,883.57 1058.08,885.20C1060.54,886.83 1064.23,891.35 1065.46,892.58" fill="none" stroke="#231f20" stroke-width="2.00" stroke-linejoin="round" stroke-linecap="round"/>
<circle cx="1030.41" cy="669.93" r="3.20" fill="#111" stroke="#111" stroke-width="0.00"/>
<path d="M1030.41,675.83C1030.41,677.68 1031.02,684.19 1030.41,686.90C1029.79,689.61 1028.25,690.84 1026.72,692.07C1025.18,693.30 1022.10,693.91 1021.18,694.28" fill="none" stroke="#231f20" stroke-width="0.90" stroke-linejoin="round" stroke-linecap="round"/>
<path d="M1030.41,686.90C1031.02,687.76 1032.56,690.84 1034.10,692.07C1035.63,693.30 1038.71,693.91 1039.63,694.28" fill="none" stroke="#231f20" stroke-width="0.90" stroke-linejoin="round" stroke-linecap="round"/>
<polygon points="1030.41,687.82 1026.72,692.44 1034.10,692.44" fill="#555"/>
<line x1="1023.03" y1="683.58" x2="980.59" y2="683.21" stroke="#8a8a8a" stroke-width="0.60"/>
<line x1="1022.10" y1="684.69" x2="984.28" y2="688.19" stroke="#8a8a8a" stroke-width="0.60"/>
<line x1="1021.18" y1="685.42" x2="989.82" y2="690.96" stroke="#8a8a8a" stroke-width="0.60"/>
<line x1="1037.79" y1="683.58" x2="1080.22" y2="684.69" stroke="#8a8a8a" stroke-width="0.60"/>
<line x1="1038.71" y1="684.69" x2="1077.45" y2="689.67" stroke="#8a8a8a" stroke-width="0.60"/>
<line x1="1039.63" y1="685.79" x2="1074.69" y2="692.44" stroke="#8a8a8a" stroke-width="0.60"/>
<circle cx="1030.50" cy="833.00" r="5.20" fill="#74b973" stroke="none" stroke-width="0.00"/>
<circle cx="1038.50" cy="831.00" r="5.20" fill="#74b973" stroke="none" stroke-width="0.00"/>
<circle cx="1045.50" cy="838.00" r="5.20" fill="#74b973" stroke="none" stroke-width="0.00"/>
<circle cx="1027.50" cy="841.00" r="5.20" fill="#74b973" stroke="none" stroke-width="0.00"/>
<circle cx="1036.50" cy="841.00" r="5.20" fill="#74b973" stroke="none" stroke-width="0.00"/>
<circle cx="1044.50" cy="847.00" r="5.20" fill="#74b973" stroke="none" stroke-width="0.00"/>
<circle cx="1029.50" cy="848.00" r="5.20" fill="#74b973" stroke="none" stroke-width="0.00"/>
<circle cx="1036.50" cy="850.00" r="5.20" fill="#74b973" stroke="none" stroke-width="0.00"/>
<circle cx="1042.50" cy="849.00" r="5.20" fill="#74b973" stroke="none" stroke-width="0.00"/>
<circle cx="1030.50" cy="833.00" r="2.00" fill="#0b8a40" stroke="none" stroke-width="0.00"/>
<circle cx="1038.50" cy="831.00" r="2.00" fill="#0b8a40" stroke="none" stroke-width="0.00"/>
<circle cx="1045.50" cy="838.00" r="2.00" fill="#0b8a40" stroke="none" stroke-width="0.00"/>
<circle cx="1027.50" cy="841.00" r="2.00" fill="#0b8a40" stroke="none" stroke-width="0.00"/>
<circle cx="1036.50" cy="841.00" r="2.00" fill="#0b8a40" stroke="none" stroke-width="0.00"/>
<circle cx="1044.50" cy="847.00" r="2.00" fill="#0b8a40" stroke="none" stroke-width="0.00"/>
<circle cx="1029.50" cy="848.00" r="2.00" fill="#0b8a40" stroke="none" stroke-width="0.00"/>
<circle cx="1036.50" cy="850.00" r="2.00" fill="#0b8a40" stroke="none" stroke-width="0.00"/>
<rect x="1170" y="808" width="168.7" height="32" fill="url(#gg)"/>
<line x1="1083.70" y1="807.30" x2="1437.50" y2="807.30" stroke="#231f20" stroke-width="3.30"/>
<line x1="1171.70" y1="787.00" x2="1171.70" y2="808.00" stroke="#231f20" stroke-width="3.50"/>
<line x1="1279.20" y1="787.00" x2="1279.20" y2="808.00" stroke="#231f20" stroke-width="3.50"/>
<text transform="translate(1112.59 778.70) scale(1.0587 1)" font-size="28.00" fill="#231f20" stroke="#fff" stroke-width="0.18">100 mm<tspan font-size="16.80" dy="-14.00">3</tspan></text>
<text transform="translate(1259.30 778.70) scale(0.9980 1)" font-size="28.00" fill="#231f20" stroke="#fff" stroke-width="0.18">Resection</text>
<text transform="translate(1170.98 831.70) scale(1.1775 1)" font-size="23.00" fill="#231f20">0</text>
<text transform="translate(1257.62 831.70) scale(0.9841 1)" font-size="23.00" fill="#231f20">+5</text>
<text transform="translate(1308.95 831.70) scale(0.9579 1)" font-size="23.00" fill="#231f20">+7</text>
<text transform="translate(1396.02 831.70) scale(0.8953 1)" font-size="23.00" fill="#231f20">+19</text>
<text transform="translate(1197.67 865.00) scale(0.9732 1)" font-size="28.00" fill="#231f20" stroke="#fff" stroke-width="0.18">Wnt L-O-F</text>
<text transform="translate(1157.42 897.50) scale(1.0550 1)" font-size="28.00" fill="#231f20" stroke="#fff" stroke-width="0.18">in vivo inhibition</text>
<text transform="translate(1211.67 930.00) scale(0.9704 1)" font-size="28.00" fill="#231f20" stroke="#fff" stroke-width="0.18">LGK974</text>
<text transform="translate(1674.54 687.00) scale(1.0106 1)" font-size="18.80" fill="#231f20" stroke="#fff" stroke-width="0.18">NS</text>
<line x1="1631.50" y1="691.00" x2="1740.20" y2="691.00" stroke="#2d2a2b" stroke-width="1.05"/>
<rect x="1598.50" y="814.70" width="68.20" height="166.00" fill="#f5f9fc" stroke="#2d2a2b" stroke-width="1"/>
<rect x="1700.50" y="818.70" width="68.00" height="162.00" fill="#8f1015" stroke="#2d2a2b" stroke-width="1"/>
<circle cx="1623.20" cy="727.70" r="6.05" fill="#fff" stroke="#231f20" stroke-width="1.15"/>
<circle cx="1641.70" cy="745.00" r="6.05" fill="#fff" stroke="#231f20" stroke-width="1.15"/>
<circle cx="1623.20" cy="784.70" r="6.05" fill="#fff" stroke="#231f20" stroke-width="1.15"/>
<circle cx="1641.70" cy="784.20" r="6.05" fill="#fff" stroke="#231f20" stroke-width="1.15"/>
<circle cx="1623.20" cy="810.50" r="6.05" fill="#fff" stroke="#231f20" stroke-width="1.15"/>
<circle cx="1641.70" cy="815.20" r="6.05" fill="#fff" stroke="#231f20" stroke-width="1.15"/>
<circle cx="1607.50" cy="828.50" r="6.05" fill="#fff" stroke="#231f20" stroke-width="1.15"/>
<circle cx="1641.20" cy="828.20" r="6.05" fill="#fff" stroke="#231f20" stroke-width="1.15"/>
<circle cx="1657.70" cy="826.50" r="6.05" fill="#fff" stroke="#231f20" stroke-width="1.15"/>
<circle cx="1623.70" cy="836.50" r="6.05" fill="#fff" stroke="#231f20" stroke-width="1.15"/>
<circle cx="1650.70" cy="839.20" r="6.05" fill="#fff" stroke="#231f20" stroke-width="1.15"/>
<circle cx="1614.00" cy="854.50" r="6.05" fill="#fff" stroke="#231f20" stroke-width="1.15"/>
<circle cx="1632.50" cy="856.00" r="6.05" fill="#fff" stroke="#231f20" stroke-width="1.15"/>
<circle cx="1632.50" cy="877.50" r="6.05" fill="#fff" stroke="#231f20" stroke-width="1.15"/>
<circle cx="1709.20" cy="783.20" r="6.05" fill="#fff" stroke="#231f20" stroke-width="1.15"/>
<circle cx="1726.00" cy="793.70" r="6.05" fill="#fff" stroke="#231f20" stroke-width="1.15"/>
<circle cx="1768.20" cy="793.20" r="6.05" fill="#fff" stroke="#231f20" stroke-width="1.15"/>
<circle cx="1742.50" cy="798.70" r="6.05" fill="#fff" stroke="#231f20" stroke-width="1.15"/>
<circle cx="1709.20" cy="813.70" r="6.05" fill="#fff" stroke="#231f20" stroke-width="1.15"/>
<circle cx="1759.20" cy="810.20" r="6.05" fill="#fff" stroke="#231f20" stroke-width="1.15"/>
<circle cx="1742.50" cy="820.50" r="6.05" fill="#fff" stroke="#231f20" stroke-width="1.15"/>
<circle cx="1715.70" cy="831.20" r="6.05" fill="#fff" stroke="#231f20" stroke-width="1.15"/>
<circle cx="1726.00" cy="827.70" r="6.05" fill="#fff" stroke="#231f20" stroke-width="1.15"/>
<circle cx="1752.50" cy="828.20" r="6.05" fill="#fff" stroke="#231f20" stroke-width="1.15"/>
<circle cx="1734.20" cy="846.20" r="6.05" fill="#fff" stroke="#231f20" stroke-width="1.15"/>
<circle cx="1734.20" cy="881.70" r="6.05" fill="#fff" stroke="#231f20" stroke-width="1.15"/>
<line x1="1632.50" y1="773.00" x2="1632.50" y2="857.20" stroke="#2d2a2b" stroke-width="1.00"/>
<line x1="1615.70" y1="773.00" x2="1649.30" y2="773.00" stroke="#2d2a2b" stroke-width="1.00"/>
<line x1="1615.70" y1="857.20" x2="1649.30" y2="857.20" stroke="#2d2a2b" stroke-width="1.00"/>
<line x1="1734.20" y1="791.50" x2="1734.20" y2="846.00" stroke="#2d2a2b" stroke-width="1.00"/>
<line x1="1717.40" y1="791.50" x2="1751.00" y2="791.50" stroke="#2d2a2b" stroke-width="1.00"/>
<line x1="1717.40" y1="846.00" x2="1751.00" y2="846.00" stroke="#2d2a2b" stroke-width="1.00"/>
<line x1="1582.00" y1="674.50" x2="1582.00" y2="980.70" stroke="#2d2a2b" stroke-width="1.05"/>
<line x1="1573.20" y1="675.00" x2="1582.00" y2="675.00" stroke="#2d2a2b" stroke-width="1.05"/>
<text transform="translate(1526.03 683.20) scale(1.0727 1)" font-size="24.00" fill="#231f20">0.6</text>
<line x1="1573.20" y1="777.00" x2="1582.00" y2="777.00" stroke="#2d2a2b" stroke-width="1.05"/>
<text transform="translate(1526.05 785.20) scale(1.0605 1)" font-size="24.00" fill="#231f20">0.4</text>
<line x1="1573.20" y1="879.00" x2="1582.00" y2="879.00" stroke="#2d2a2b" stroke-width="1.05"/>
<text transform="translate(1527.78 887.20) scale(1.0225 1)" font-size="24.00" fill="#231f20">0.2</text>
<line x1="1573.20" y1="980.70" x2="1582.00" y2="980.70" stroke="#2d2a2b" stroke-width="1.05"/>
<text transform="translate(1547.01 988.90) scale(1.1024 1)" font-size="24.00" fill="#231f20">0</text>
<line x1="1573.20" y1="980.70" x2="1785.70" y2="980.70" stroke="#2d2a2b" stroke-width="1.05"/>
<line x1="1632.50" y1="980.70" x2="1632.50" y2="989.70" stroke="#2d2a2b" stroke-width="1.05"/>
<line x1="1734.20" y1="980.70" x2="1734.20" y2="989.70" stroke="#2d2a2b" stroke-width="1.05"/>
<text transform="translate(1608.32 1034.10) scale(1.1426 1)" font-size="27.80" fill="#231f20" stroke="#fff" stroke-width="0.18">Ctrl</text>
<text transform="translate(1710.47 1021.60) scale(0.9921 1)" font-size="27.80" fill="#231f20" stroke="#fff" stroke-width="0.18">Wnt</text>
<text transform="translate(1698.89 1046.60) scale(0.9676 1)" font-size="27.80" fill="#231f20" stroke="#fff" stroke-width="0.18">L-O-F</text>
<text transform="translate(1598.24 1076.60) scale(0.8845 1)" font-size="27.80" fill="#231f20" stroke="#fff" stroke-width="0.18"><tspan font-style="italic">n</tspan> = 14</text>
<text transform="translate(1700.74 1076.60) scale(0.8779 1)" font-size="27.80" fill="#231f20" stroke="#fff" stroke-width="0.18"><tspan font-style="italic">n</tspan> = 12</text>
<text transform="translate(1501.20 1014.94) rotate(-90) scale(1.0183 1)" font-size="28.30" fill="#231f20" stroke="#fff" stroke-width="0.18">Tumor weight at resection (g)</text>
<text transform="translate(2020.83 686.50) scale(1.0320 1)" font-size="18.80" fill="#231f20" stroke="#fff" stroke-width="0.18"><tspan font-style="italic">P</tspan> = 0.038</text>
<rect x="1978.50" y="930.00" width="68.00" height="50.70" fill="#f5f9fc" stroke="#2d2a2b" stroke-width="1"/>
<rect x="2080.50" y="878.00" width="68.00" height="102.70" fill="#8f1015" stroke="#2d2a2b" stroke-width="1"/>
<circle cx="2012.20" cy="799.20" r="6.05" fill="#fff" stroke="#231f20" stroke-width="1.15"/>
<circle cx="2003.50" cy="873.20" r="6.05" fill="#fff" stroke="#231f20" stroke-width="1.15"/>
<circle cx="2021.50" cy="876.00" r="6.05" fill="#fff" stroke="#231f20" stroke-width="1.15"/>
<circle cx="1994.00" cy="918.20" r="6.05" fill="#fff" stroke="#231f20" stroke-width="1.15"/>
<circle cx="2012.20" cy="921.20" r="6.05" fill="#fff" stroke="#231f20" stroke-width="1.15"/>
<circle cx="2030.70" cy="920.50" r="6.05" fill="#fff" stroke="#231f20" stroke-width="1.15"/>
<circle cx="2003.00" cy="940.70" r="6.05" fill="#fff" stroke="#231f20" stroke-width="1.15"/>
<circle cx="2030.70" cy="943.20" r="6.05" fill="#fff" stroke="#231f20" stroke-width="1.15"/>
<circle cx="2003.00" cy="964.00" r="6.05" fill="#fff" stroke="#231f20" stroke-width="1.15"/>
<circle cx="2021.50" cy="961.50" r="6.05" fill="#fff" stroke="#231f20" stroke-width="1.15"/>
<circle cx="2029.00" cy="969.50" r="6.05" fill="#fff" stroke="#231f20" stroke-width="1.15"/>
<circle cx="1995.50" cy="976.20" r="6.05" fill="#fff" stroke="#231f20" stroke-width="1.15"/>
<circle cx="2007.20" cy="978.70" r="6.05" fill="#fff" stroke="#231f20" stroke-width="1.15"/>
<circle cx="2017.70" cy="978.00" r="6.05" fill="#fff" stroke="#231f20" stroke-width="1.15"/>
<circle cx="2114.00" cy="742.50" r="6.05" fill="#fff" stroke="#231f20" stroke-width="1.15"/>
<circle cx="2104.70" cy="792.00" r="6.05" fill="#fff" stroke="#231f20" stroke-width="1.15"/>
<circle cx="2123.50" cy="789.00" r="6.05" fill="#fff" stroke="#231f20" stroke-width="1.15"/>
<circle cx="2114.00" cy="863.50" r="6.05" fill="#fff" stroke="#231f20" stroke-width="1.15"/>
<circle cx="2123.50" cy="871.70" r="6.05" fill="#fff" stroke="#231f20" stroke-width="1.15"/>
<circle cx="2104.70" cy="884.00" r="6.05" fill="#fff" stroke="#231f20" stroke-width="1.15"/>
<circle cx="2132.70" cy="914.70" r="6.05" fill="#fff" stroke="#231f20" stroke-width="1.15"/>
<circle cx="2086.50" cy="924.00" r="6.05" fill="#fff" stroke="#231f20" stroke-width="1.15"/>
<circle cx="2114.00" cy="924.50" r="6.05" fill="#fff" stroke="#231f20" stroke-width="1.15"/>
<circle cx="2095.50" cy="939.20" r="6.05" fill="#fff" stroke="#231f20" stroke-width="1.15"/>
<circle cx="2132.70" cy="940.50" r="6.05" fill="#fff" stroke="#231f20" stroke-width="1.15"/>
<circle cx="2114.00" cy="952.20" r="6.05" fill="#fff" stroke="#231f20" stroke-width="1.15"/>
<line x1="2012.20" y1="878.50" x2="2012.20" y2="980.70" stroke="#2d2a2b" stroke-width="1.00"/>
<line x1="1995.40" y1="878.50" x2="2029.00" y2="878.50" stroke="#2d2a2b" stroke-width="1.00"/>
<line x1="2114.00" y1="808.20" x2="2114.00" y2="947.50" stroke="#2d2a2b" stroke-width="1.00"/>
<line x1="2097.20" y1="808.20" x2="2130.80" y2="808.20" stroke="#2d2a2b" stroke-width="1.00"/>
<line x1="2097.20" y1="947.50" x2="2130.80" y2="947.50" stroke="#2d2a2b" stroke-width="1.00"/>
<polyline points="2011.50,782.00 2011.50,694.20 2114.70,694.20 2114.70,727.50" fill="none" stroke="#2d2a2b" stroke-width="1.00"/>
<line x1="1961.50" y1="674.50" x2="1961.50" y2="980.70" stroke="#2d2a2b" stroke-width="1.05"/>
<line x1="1952.70" y1="675.00" x2="1961.50" y2="675.00" stroke="#2d2a2b" stroke-width="1.05"/>
<text transform="translate(1874.60 683.20) scale(1.1094 1)" font-size="24.00" fill="#231f20">4,000</text>
<line x1="1952.70" y1="751.50" x2="1961.50" y2="751.50" stroke="#2d2a2b" stroke-width="1.05"/>
<text transform="translate(1874.20 759.70) scale(1.1162 1)" font-size="24.00" fill="#231f20">3,000</text>
<line x1="1952.70" y1="828.00" x2="1961.50" y2="828.00" stroke="#2d2a2b" stroke-width="1.05"/>
<text transform="translate(1874.36 836.20) scale(1.1134 1)" font-size="24.00" fill="#231f20">2,000</text>
<line x1="1952.70" y1="904.50" x2="1961.50" y2="904.50" stroke="#2d2a2b" stroke-width="1.05"/>
<text transform="translate(1876.77 912.70) scale(1.0727 1)" font-size="24.00" fill="#231f20">1,000</text>
<line x1="1952.70" y1="980.70" x2="1961.50" y2="980.70" stroke="#2d2a2b" stroke-width="1.05"/>
<text transform="translate(1926.51 988.90) scale(1.1024 1)" font-size="24.00" fill="#231f20">0</text>
<line x1="1952.70" y1="980.70" x2="2166.00" y2="980.70" stroke="#2d2a2b" stroke-width="1.05"/>
<line x1="2012.20" y1="980.70" x2="2012.20" y2="989.70" stroke="#2d2a2b" stroke-width="1.05"/>
<line x1="2114.00" y1="980.70" x2="2114.00" y2="989.70" stroke="#2d2a2b" stroke-width="1.05"/>
<text transform="translate(1987.50 1034.10) scale(1.1551 1)" font-size="27.80" fill="#231f20" stroke="#fff" stroke-width="0.18">Ctrl</text>
<text transform="translate(2089.97 1021.60) scale(0.9880 1)" font-size="27.80" fill="#231f20" stroke="#fff" stroke-width="0.18">Wnt</text>
<text transform="translate(2078.71 1046.60) scale(0.9589 1)" font-size="27.80" fill="#231f20" stroke="#fff" stroke-width="0.18">L-O-F</text>
<text transform="translate(1978.04 1076.60) scale(0.8871 1)" font-size="27.80" fill="#231f20" stroke="#fff" stroke-width="0.18"><tspan font-style="italic">n</tspan> = 14</text>
<text transform="translate(2080.54 1076.60) scale(0.8766 1)" font-size="27.80" fill="#231f20" stroke="#fff" stroke-width="0.18"><tspan font-style="italic">n</tspan> = 12</text>
<text transform="translate(1850.70 973.23) rotate(-90) scale(1.0037 1)" font-size="28.30" fill="#231f20" stroke="#fff" stroke-width="0.18">TCs per mg lung tissue</text>
</svg>
</body></html>
